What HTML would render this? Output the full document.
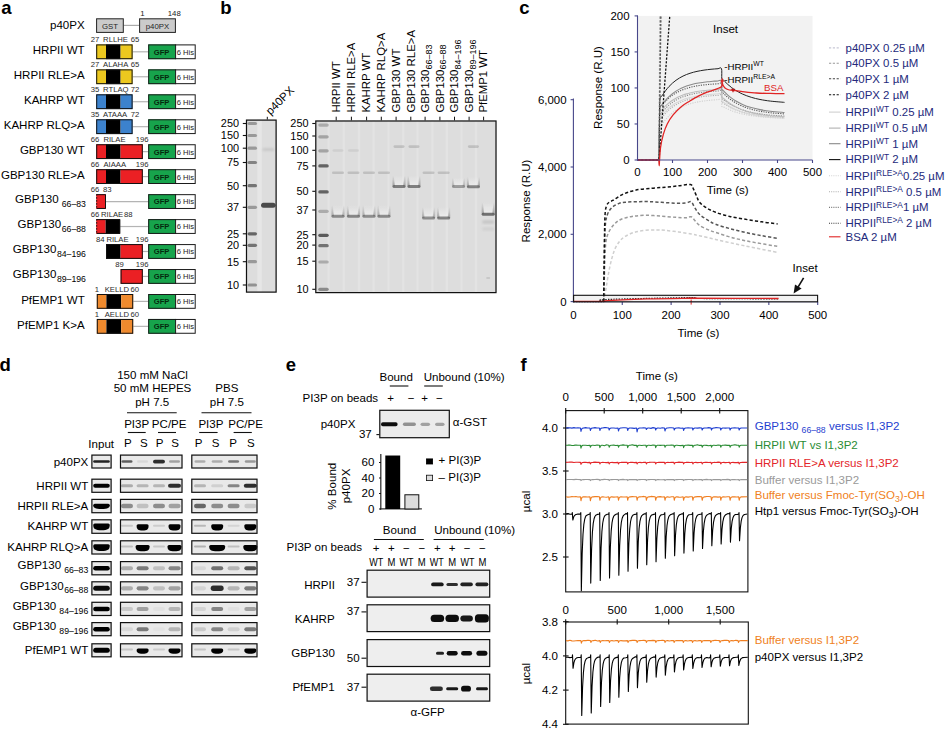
<!DOCTYPE html>
<html><head><meta charset="utf-8"><style>
html,body{margin:0;padding:0;background:#fff;width:946px;height:731px;overflow:hidden}
svg{display:block}
text{font-family:"Liberation Sans", sans-serif}
</style></head><body>
<svg width="946" height="731" viewBox="0 0 946 731" font-family='"Liberation Sans", sans-serif'>
<defs>
<filter id="b05" x="-50%" y="-50%" width="200%" height="200%"><feGaussianBlur stdDeviation="0.5"/></filter>
<filter id="b07" x="-50%" y="-50%" width="200%" height="200%"><feGaussianBlur stdDeviation="0.7"/></filter>
<filter id="b1" x="-50%" y="-50%" width="200%" height="200%"><feGaussianBlur stdDeviation="1"/></filter>
<filter id="b15" x="-50%" y="-50%" width="200%" height="200%"><feGaussianBlur stdDeviation="1.5"/></filter>
<filter id="b2" x="-50%" y="-50%" width="200%" height="200%"><feGaussianBlur stdDeviation="2"/></filter>
<filter id="b3" x="-50%" y="-50%" width="200%" height="200%"><feGaussianBlur stdDeviation="3"/></filter>
<linearGradient id="ugrad" x1="0" y1="0" x2="0" y2="1"><stop offset="0" stop-color="#888" stop-opacity="0"/><stop offset="1" stop-color="#666" stop-opacity="0.55"/></linearGradient>
<linearGradient id="lgrad" x1="0" y1="0" x2="0" y2="1"><stop offset="0" stop-color="#eeeeee" stop-opacity="0"/><stop offset="1" stop-color="#efefef" stop-opacity="0.9"/></linearGradient>
</defs>
<text x="1.30" y="13.80" font-size="18.5" fill="#000" font-weight="bold">a</text>
<text x="220.20" y="13.60" font-size="18.5" fill="#000" font-weight="bold">b</text>
<text x="519.20" y="13.90" font-size="18.5" fill="#000" font-weight="bold">c</text>
<text x="-0.60" y="370.60" font-size="18.5" fill="#000" font-weight="bold">d</text>
<text x="285.80" y="370.80" font-size="18.5" fill="#000" font-weight="bold">e</text>
<text x="520.50" y="371.20" font-size="18.5" fill="#000" font-weight="bold">f</text>
<text x="84.70" y="29.10" font-size="11.55" text-anchor="end">p40PX</text>
<text x="140.20" y="15.60" font-size="7.8" fill="#222">1</text>
<text x="180.80" y="15.60" font-size="7.8" text-anchor="end" fill="#222">148</text>
<line x1="123.70" y1="25.40" x2="139.30" y2="25.40" stroke="#aaa" stroke-width="1.2"/>
<rect x="96.60" y="18.80" width="26.70" height="13.60" fill="#cbcbcb" stroke="#222" stroke-width="1"/>
<rect x="139.60" y="18.80" width="35.80" height="13.60" fill="#cbcbcb" stroke="#222" stroke-width="1"/>
<text x="110.00" y="28.60" font-size="7.8" text-anchor="middle" fill="#262626">GST</text>
<text x="157.50" y="28.60" font-size="7.8" text-anchor="middle" fill="#262626">p40PX</text>
<text x="84.70" y="54.10" font-size="11.55" text-anchor="end">HRPII WT</text>
<line x1="132.60" y1="51.80" x2="148.20" y2="51.80" stroke="#b4b4b4" stroke-width="1.2"/>
<rect x="96.20" y="44.40" width="9.80" height="14.80" fill="#ecc81f"/>
<rect x="106.00" y="44.40" width="14.60" height="14.80" fill="#000"/>
<rect x="120.60" y="44.40" width="12.00" height="14.80" fill="#ecc81f"/>
<rect x="96.70" y="44.90" width="35.40" height="13.80" fill="none" stroke="#111" stroke-width="1"/>
<rect x="148.2" y="44.40" width="27.4" height="14.80" fill="#17a44c"/>
<rect x="148.70" y="44.90" width="46.50" height="13.80" fill="none" stroke="#1a1a1a" stroke-width="1"/>
<line x1="175.60" y1="44.40" x2="175.60" y2="59.20" stroke="#1a1a1a" stroke-width="1"/>
<text x="161.60" y="54.70" font-size="7.6" text-anchor="middle" fill="#052a0f" font-weight="bold">GFP</text>
<text x="176.70" y="54.70" font-size="7.6" fill="#222">6 His</text>
<text x="90.80" y="42.40" font-size="7.7" fill="#2a2a2a">27</text>
<text x="103.10" y="42.40" font-size="7.7" fill="#2a2a2a">RLLHE</text>
<text x="130.70" y="42.40" font-size="7.7" fill="#2a2a2a">65</text>
<text x="84.70" y="79.06" font-size="11.55" text-anchor="end">HRPII RLE&gt;A</text>
<line x1="132.60" y1="76.76" x2="148.20" y2="76.76" stroke="#b4b4b4" stroke-width="1.2"/>
<rect x="96.20" y="69.36" width="9.80" height="14.80" fill="#ecc81f"/>
<rect x="106.00" y="69.36" width="14.60" height="14.80" fill="#000"/>
<rect x="120.60" y="69.36" width="12.00" height="14.80" fill="#ecc81f"/>
<rect x="96.70" y="69.86" width="35.40" height="13.80" fill="none" stroke="#111" stroke-width="1"/>
<rect x="148.2" y="69.36" width="27.4" height="14.80" fill="#17a44c"/>
<rect x="148.70" y="69.86" width="46.50" height="13.80" fill="none" stroke="#1a1a1a" stroke-width="1"/>
<line x1="175.60" y1="69.36" x2="175.60" y2="84.16" stroke="#1a1a1a" stroke-width="1"/>
<text x="161.60" y="79.66" font-size="7.6" text-anchor="middle" fill="#052a0f" font-weight="bold">GFP</text>
<text x="176.70" y="79.66" font-size="7.6" fill="#222">6 His</text>
<text x="90.80" y="67.36" font-size="7.7" fill="#2a2a2a">27</text>
<text x="103.10" y="67.36" font-size="7.7" fill="#2a2a2a">ALAHA</text>
<text x="130.70" y="67.36" font-size="7.7" fill="#2a2a2a">65</text>
<text x="84.70" y="104.02" font-size="11.55" text-anchor="end">KAHRP WT</text>
<line x1="132.60" y1="101.72" x2="148.20" y2="101.72" stroke="#b4b4b4" stroke-width="1.2"/>
<rect x="96.20" y="94.32" width="9.80" height="14.80" fill="#3c82cd"/>
<rect x="106.00" y="94.32" width="14.60" height="14.80" fill="#000"/>
<rect x="120.60" y="94.32" width="12.00" height="14.80" fill="#3c82cd"/>
<rect x="96.70" y="94.82" width="35.40" height="13.80" fill="none" stroke="#111" stroke-width="1"/>
<rect x="148.2" y="94.32" width="27.4" height="14.80" fill="#17a44c"/>
<rect x="148.70" y="94.82" width="46.50" height="13.80" fill="none" stroke="#1a1a1a" stroke-width="1"/>
<line x1="175.60" y1="94.32" x2="175.60" y2="109.12" stroke="#1a1a1a" stroke-width="1"/>
<text x="161.60" y="104.62" font-size="7.6" text-anchor="middle" fill="#052a0f" font-weight="bold">GFP</text>
<text x="176.70" y="104.62" font-size="7.6" fill="#222">6 His</text>
<text x="90.80" y="92.32" font-size="7.7" fill="#2a2a2a">35</text>
<text x="103.10" y="92.32" font-size="7.7" fill="#2a2a2a">RTLAQ</text>
<text x="130.70" y="92.32" font-size="7.7" fill="#2a2a2a">72</text>
<text x="84.70" y="128.98" font-size="11.55" text-anchor="end">KAHRP RLQ&gt;A</text>
<line x1="132.60" y1="126.68" x2="148.20" y2="126.68" stroke="#b4b4b4" stroke-width="1.2"/>
<rect x="96.20" y="119.28" width="9.80" height="14.80" fill="#3c82cd"/>
<rect x="106.00" y="119.28" width="14.60" height="14.80" fill="#000"/>
<rect x="120.60" y="119.28" width="12.00" height="14.80" fill="#3c82cd"/>
<rect x="96.70" y="119.78" width="35.40" height="13.80" fill="none" stroke="#111" stroke-width="1"/>
<rect x="148.2" y="119.28" width="27.4" height="14.80" fill="#17a44c"/>
<rect x="148.70" y="119.78" width="46.50" height="13.80" fill="none" stroke="#1a1a1a" stroke-width="1"/>
<line x1="175.60" y1="119.28" x2="175.60" y2="134.08" stroke="#1a1a1a" stroke-width="1"/>
<text x="161.60" y="129.58" font-size="7.6" text-anchor="middle" fill="#052a0f" font-weight="bold">GFP</text>
<text x="176.70" y="129.58" font-size="7.6" fill="#222">6 His</text>
<text x="90.80" y="117.28" font-size="7.7" fill="#2a2a2a">35</text>
<text x="103.10" y="117.28" font-size="7.7" fill="#2a2a2a">ATAAA</text>
<text x="130.70" y="117.28" font-size="7.7" fill="#2a2a2a">72</text>
<text x="84.70" y="153.94" font-size="11.55" text-anchor="end">GBP130 WT</text>
<line x1="142.80" y1="151.64" x2="148.20" y2="151.64" stroke="#b4b4b4" stroke-width="1.2"/>
<rect x="96.20" y="144.24" width="9.80" height="14.80" fill="#eb2024"/>
<rect x="106.00" y="144.24" width="14.60" height="14.80" fill="#000"/>
<rect x="120.60" y="144.24" width="22.20" height="14.80" fill="#eb2024"/>
<rect x="96.70" y="144.74" width="45.60" height="13.80" fill="none" stroke="#111" stroke-width="1"/>
<rect x="148.2" y="144.24" width="27.4" height="14.80" fill="#17a44c"/>
<rect x="148.70" y="144.74" width="46.50" height="13.80" fill="none" stroke="#1a1a1a" stroke-width="1"/>
<line x1="175.60" y1="144.24" x2="175.60" y2="159.04" stroke="#1a1a1a" stroke-width="1"/>
<text x="161.60" y="154.54" font-size="7.6" text-anchor="middle" fill="#052a0f" font-weight="bold">GFP</text>
<text x="176.70" y="154.54" font-size="7.6" fill="#222">6 His</text>
<text x="90.80" y="142.24" font-size="7.7" fill="#2a2a2a">66</text>
<text x="103.40" y="142.24" font-size="7.7" fill="#2a2a2a">RILAE</text>
<text x="148.60" y="142.24" font-size="7.7" text-anchor="end" fill="#2a2a2a">196</text>
<text x="84.70" y="178.90" font-size="11.55" text-anchor="end">GBP130 RLE&gt;A</text>
<line x1="142.80" y1="176.60" x2="148.20" y2="176.60" stroke="#b4b4b4" stroke-width="1.2"/>
<rect x="96.20" y="169.20" width="9.80" height="14.80" fill="#eb2024"/>
<rect x="106.00" y="169.20" width="14.60" height="14.80" fill="#000"/>
<rect x="120.60" y="169.20" width="22.20" height="14.80" fill="#eb2024"/>
<rect x="96.70" y="169.70" width="45.60" height="13.80" fill="none" stroke="#111" stroke-width="1"/>
<rect x="148.2" y="169.20" width="27.4" height="14.80" fill="#17a44c"/>
<rect x="148.70" y="169.70" width="46.50" height="13.80" fill="none" stroke="#1a1a1a" stroke-width="1"/>
<line x1="175.60" y1="169.20" x2="175.60" y2="184.00" stroke="#1a1a1a" stroke-width="1"/>
<text x="161.60" y="179.50" font-size="7.6" text-anchor="middle" fill="#052a0f" font-weight="bold">GFP</text>
<text x="176.70" y="179.50" font-size="7.6" fill="#222">6 His</text>
<text x="90.80" y="167.20" font-size="7.7" fill="#2a2a2a">66</text>
<text x="103.40" y="167.20" font-size="7.7" fill="#2a2a2a">AIAAA</text>
<text x="148.60" y="167.20" font-size="7.7" text-anchor="end" fill="#2a2a2a">196</text>
<text x="85.90" y="203.46" font-size="11.55" text-anchor="end">GBP130<tspan font-size="8.7" dx="3" dy="3.4">66–83</tspan></text>
<line x1="106.00" y1="201.56" x2="148.20" y2="201.56" stroke="#b4b4b4" stroke-width="1.2"/>
<rect x="96.20" y="194.16" width="9.80" height="14.80" fill="#eb2024"/>
<path d="M96.70,194.66 H105.50 V208.46 H96.70" fill="none" stroke="#111" stroke-width="1"/>
<line x1="96.70" y1="194.16" x2="96.70" y2="208.96" stroke="#111" stroke-width="1" stroke-dasharray="1.5,1.5"/>
<rect x="148.2" y="194.16" width="27.4" height="14.80" fill="#17a44c"/>
<rect x="148.70" y="194.66" width="46.50" height="13.80" fill="none" stroke="#1a1a1a" stroke-width="1"/>
<line x1="175.60" y1="194.16" x2="175.60" y2="208.96" stroke="#1a1a1a" stroke-width="1"/>
<text x="161.60" y="204.46" font-size="7.6" text-anchor="middle" fill="#052a0f" font-weight="bold">GFP</text>
<text x="176.70" y="204.46" font-size="7.6" fill="#222">6 His</text>
<text x="90.80" y="192.16" font-size="7.7" fill="#2a2a2a">66</text>
<text x="103.00" y="192.16" font-size="7.7" fill="#2a2a2a">83</text>
<text x="85.90" y="228.42" font-size="11.55" text-anchor="end">GBP130<tspan font-size="8.7" dx="0.5" dy="3.4">66–88</tspan></text>
<line x1="120.20" y1="226.52" x2="148.20" y2="226.52" stroke="#b4b4b4" stroke-width="1.2"/>
<rect x="96.20" y="219.12" width="9.40" height="14.80" fill="#eb2024"/>
<rect x="105.60" y="219.12" width="14.60" height="14.80" fill="#000"/>
<path d="M96.70,219.62 H119.70 V233.42 H96.70" fill="none" stroke="#111" stroke-width="1"/>
<line x1="96.70" y1="219.12" x2="96.70" y2="233.92" stroke="#111" stroke-width="1" stroke-dasharray="1.5,1.5"/>
<rect x="148.2" y="219.12" width="27.4" height="14.80" fill="#17a44c"/>
<rect x="148.70" y="219.62" width="46.50" height="13.80" fill="none" stroke="#1a1a1a" stroke-width="1"/>
<line x1="175.60" y1="219.12" x2="175.60" y2="233.92" stroke="#1a1a1a" stroke-width="1"/>
<text x="161.60" y="229.42" font-size="7.6" text-anchor="middle" fill="#052a0f" font-weight="bold">GFP</text>
<text x="176.70" y="229.42" font-size="7.6" fill="#222">6 His</text>
<text x="90.80" y="217.12" font-size="7.7" fill="#2a2a2a">66</text>
<text x="101.00" y="217.12" font-size="7.7" fill="#2a2a2a">RILAE</text>
<text x="123.90" y="217.12" font-size="7.7" fill="#2a2a2a">88</text>
<text x="85.90" y="253.38" font-size="11.55" text-anchor="end">GBP130<tspan font-size="8.7" dx="0.5" dy="3.4">84–196</tspan></text>
<line x1="142.80" y1="251.48" x2="148.20" y2="251.48" stroke="#b4b4b4" stroke-width="1.2"/>
<rect x="106.00" y="244.08" width="14.60" height="14.80" fill="#000"/>
<rect x="120.60" y="244.08" width="22.20" height="14.80" fill="#eb2024"/>
<rect x="106.50" y="244.58" width="35.80" height="13.80" fill="none" stroke="#111" stroke-width="1"/>
<rect x="148.2" y="244.08" width="27.4" height="14.80" fill="#17a44c"/>
<rect x="148.70" y="244.58" width="46.50" height="13.80" fill="none" stroke="#1a1a1a" stroke-width="1"/>
<line x1="175.60" y1="244.08" x2="175.60" y2="258.88" stroke="#1a1a1a" stroke-width="1"/>
<text x="161.60" y="254.38" font-size="7.6" text-anchor="middle" fill="#052a0f" font-weight="bold">GFP</text>
<text x="176.70" y="254.38" font-size="7.6" fill="#222">6 His</text>
<text x="96.00" y="242.08" font-size="7.7" fill="#2a2a2a">84</text>
<text x="106.40" y="242.08" font-size="7.7" fill="#2a2a2a">RILAE</text>
<text x="148.60" y="242.08" font-size="7.7" text-anchor="end" fill="#2a2a2a">196</text>
<text x="85.90" y="278.34" font-size="11.55" text-anchor="end">GBP130<tspan font-size="8.7" dx="0.5" dy="3.4">89–196</tspan></text>
<line x1="142.80" y1="276.44" x2="148.20" y2="276.44" stroke="#b4b4b4" stroke-width="1.2"/>
<rect x="120.60" y="269.04" width="22.20" height="14.80" fill="#eb2024"/>
<rect x="121.10" y="269.54" width="21.20" height="13.80" fill="none" stroke="#111" stroke-width="1"/>
<rect x="148.2" y="269.04" width="27.4" height="14.80" fill="#17a44c"/>
<rect x="148.70" y="269.54" width="46.50" height="13.80" fill="none" stroke="#1a1a1a" stroke-width="1"/>
<line x1="175.60" y1="269.04" x2="175.60" y2="283.84" stroke="#1a1a1a" stroke-width="1"/>
<text x="161.60" y="279.34" font-size="7.6" text-anchor="middle" fill="#052a0f" font-weight="bold">GFP</text>
<text x="176.70" y="279.34" font-size="7.6" fill="#222">6 His</text>
<text x="115.30" y="267.04" font-size="7.7" fill="#2a2a2a">89</text>
<text x="148.60" y="267.04" font-size="7.7" text-anchor="end" fill="#2a2a2a">196</text>
<text x="84.70" y="303.70" font-size="11.55" text-anchor="end">PfEMP1 WT</text>
<line x1="133.20" y1="301.40" x2="148.20" y2="301.40" stroke="#b4b4b4" stroke-width="1.2"/>
<rect x="96.80" y="294.00" width="9.60" height="14.80" fill="#ef8a2e"/>
<rect x="106.40" y="294.00" width="14.80" height="14.80" fill="#000"/>
<rect x="121.20" y="294.00" width="12.00" height="14.80" fill="#ef8a2e"/>
<rect x="97.30" y="294.50" width="35.40" height="13.80" fill="none" stroke="#111" stroke-width="1"/>
<rect x="148.2" y="294.00" width="27.4" height="14.80" fill="#17a44c"/>
<rect x="148.70" y="294.50" width="46.50" height="13.80" fill="none" stroke="#1a1a1a" stroke-width="1"/>
<line x1="175.60" y1="294.00" x2="175.60" y2="308.80" stroke="#1a1a1a" stroke-width="1"/>
<text x="161.60" y="304.30" font-size="7.6" text-anchor="middle" fill="#052a0f" font-weight="bold">GFP</text>
<text x="176.70" y="304.30" font-size="7.6" fill="#222">6 His</text>
<text x="94.80" y="292.00" font-size="7.7" fill="#2a2a2a">1</text>
<text x="104.70" y="292.00" font-size="7.7" fill="#2a2a2a">KELLD</text>
<text x="130.50" y="292.00" font-size="7.7" fill="#2a2a2a">60</text>
<text x="84.70" y="328.66" font-size="11.55" text-anchor="end">PfEMP1 K&gt;A</text>
<line x1="133.20" y1="326.36" x2="148.20" y2="326.36" stroke="#b4b4b4" stroke-width="1.2"/>
<rect x="96.80" y="318.96" width="9.60" height="14.80" fill="#ef8a2e"/>
<rect x="106.40" y="318.96" width="14.80" height="14.80" fill="#000"/>
<rect x="121.20" y="318.96" width="12.00" height="14.80" fill="#ef8a2e"/>
<rect x="97.30" y="319.46" width="35.40" height="13.80" fill="none" stroke="#111" stroke-width="1"/>
<rect x="148.2" y="318.96" width="27.4" height="14.80" fill="#17a44c"/>
<rect x="148.70" y="319.46" width="46.50" height="13.80" fill="none" stroke="#1a1a1a" stroke-width="1"/>
<line x1="175.60" y1="318.96" x2="175.60" y2="333.76" stroke="#1a1a1a" stroke-width="1"/>
<text x="161.60" y="329.26" font-size="7.6" text-anchor="middle" fill="#052a0f" font-weight="bold">GFP</text>
<text x="176.70" y="329.26" font-size="7.6" fill="#222">6 His</text>
<text x="94.80" y="316.96" font-size="7.7" fill="#2a2a2a">1</text>
<text x="104.70" y="316.96" font-size="7.7" fill="#2a2a2a">AELLD</text>
<text x="130.50" y="316.96" font-size="7.7" fill="#2a2a2a">60</text>
<rect x="245.9" y="119.5" width="30.799999999999983" height="173.2" fill="#dddddd"/>
<rect x="257.3" y="119.5" width="4.5" height="173.2" fill="#e6e6e6" filter="url(#b05)"/>
<rect x="247.55" y="121.90" width="9.50" height="3.20" rx="1.60" fill="#4a4a4a" opacity="0.45" filter="url(#b05)"/>
<line x1="242.80" y1="123.50" x2="246.00" y2="123.50" stroke="#111" stroke-width="1.1"/>
<text x="239.00" y="127.40" font-size="10.9" text-anchor="end" fill="#000">250</text>
<rect x="247.55" y="133.90" width="9.50" height="3.20" rx="1.60" fill="#4a4a4a" opacity="0.45" filter="url(#b05)"/>
<line x1="242.80" y1="135.50" x2="246.00" y2="135.50" stroke="#111" stroke-width="1.1"/>
<text x="239.00" y="139.40" font-size="10.9" text-anchor="end" fill="#000">150</text>
<rect x="247.55" y="146.60" width="9.50" height="3.20" rx="1.60" fill="#4a4a4a" opacity="0.45" filter="url(#b05)"/>
<line x1="242.80" y1="148.20" x2="246.00" y2="148.20" stroke="#111" stroke-width="1.1"/>
<text x="239.00" y="152.10" font-size="10.9" text-anchor="end" fill="#000">100</text>
<rect x="247.55" y="160.90" width="9.50" height="3.20" rx="1.60" fill="#4a4a4a" opacity="0.6" filter="url(#b05)"/>
<line x1="242.80" y1="162.50" x2="246.00" y2="162.50" stroke="#111" stroke-width="1.1"/>
<text x="239.00" y="166.40" font-size="10.9" text-anchor="end" fill="#000">75</text>
<rect x="247.55" y="184.10" width="9.50" height="3.20" rx="1.60" fill="#4a4a4a" opacity="0.7" filter="url(#b05)"/>
<line x1="242.80" y1="185.70" x2="246.00" y2="185.70" stroke="#111" stroke-width="1.1"/>
<text x="239.00" y="189.60" font-size="10.9" text-anchor="end" fill="#000">50</text>
<rect x="247.55" y="205.70" width="9.50" height="3.20" rx="1.60" fill="#4a4a4a" opacity="0.45" filter="url(#b05)"/>
<line x1="242.80" y1="207.30" x2="246.00" y2="207.30" stroke="#111" stroke-width="1.1"/>
<text x="239.00" y="211.20" font-size="10.9" text-anchor="end" fill="#000">37</text>
<rect x="247.55" y="232.20" width="9.50" height="3.20" rx="1.60" fill="#4a4a4a" opacity="0.8" filter="url(#b05)"/>
<line x1="242.80" y1="233.80" x2="246.00" y2="233.80" stroke="#111" stroke-width="1.1"/>
<text x="239.00" y="237.70" font-size="10.9" text-anchor="end" fill="#000">25</text>
<rect x="247.55" y="243.70" width="9.50" height="3.20" rx="1.60" fill="#4a4a4a" opacity="0.7" filter="url(#b05)"/>
<line x1="242.80" y1="245.30" x2="246.00" y2="245.30" stroke="#111" stroke-width="1.1"/>
<text x="239.00" y="249.20" font-size="10.9" text-anchor="end" fill="#000">20</text>
<rect x="247.55" y="260.10" width="9.50" height="3.20" rx="1.60" fill="#4a4a4a" opacity="0.45" filter="url(#b05)"/>
<line x1="242.80" y1="261.70" x2="246.00" y2="261.70" stroke="#111" stroke-width="1.1"/>
<text x="239.00" y="265.60" font-size="10.9" text-anchor="end" fill="#000">15</text>
<rect x="247.55" y="283.40" width="9.50" height="3.20" rx="1.60" fill="#4a4a4a" opacity="0.5" filter="url(#b05)"/>
<line x1="242.80" y1="285.00" x2="246.00" y2="285.00" stroke="#111" stroke-width="1.1"/>
<text x="239.00" y="288.90" font-size="10.9" text-anchor="end" fill="#000">10</text>
<rect x="261.05" y="202.80" width="14.50" height="5.00" rx="2.50" fill="#3a3a3a" opacity="0.9" filter="url(#b05)"/>
<rect x="262.30" y="148.00" width="12.00" height="3.00" rx="1.50" fill="#909090" opacity="0.25" filter="url(#b1)"/>
<rect x="246.5" y="120.1" width="29.599999999999984" height="172.0" fill="none" stroke="#111" stroke-width="1.2"/>
<line x1="267.30" y1="116.80" x2="267.30" y2="119.50" stroke="#111" stroke-width="1"/>
<text x="270.50" y="115.50" font-size="11.45" transform="rotate(-45 270.5 115.5)">p40PX</text>
<rect x="315.2" y="120.4" width="181.40000000000003" height="172.79999999999998" fill="#dddddd"/>
<rect x="327.50" y="120.4" width="2.2" height="172.8" fill="#e3e3e3" filter="url(#b05)"/>
<rect x="342.70" y="120.4" width="2.2" height="172.8" fill="#e3e3e3" filter="url(#b05)"/>
<rect x="357.90" y="120.4" width="2.2" height="172.8" fill="#e3e3e3" filter="url(#b05)"/>
<rect x="372.60" y="120.4" width="2.2" height="172.8" fill="#e3e3e3" filter="url(#b05)"/>
<rect x="387.40" y="120.4" width="2.2" height="172.8" fill="#e3e3e3" filter="url(#b05)"/>
<rect x="402.10" y="120.4" width="2.2" height="172.8" fill="#e3e3e3" filter="url(#b05)"/>
<rect x="416.40" y="120.4" width="2.2" height="172.8" fill="#e3e3e3" filter="url(#b05)"/>
<rect x="431.20" y="120.4" width="2.2" height="172.8" fill="#e3e3e3" filter="url(#b05)"/>
<rect x="445.80" y="120.4" width="2.2" height="172.8" fill="#e3e3e3" filter="url(#b05)"/>
<rect x="460.40" y="120.4" width="2.2" height="172.8" fill="#e3e3e3" filter="url(#b05)"/>
<rect x="474.90" y="120.4" width="2.2" height="172.8" fill="#e3e3e3" filter="url(#b05)"/>
<rect x="318.25" y="123.50" width="10.50" height="3.20" rx="1.60" fill="#3a3a3a" opacity="0.3" filter="url(#b05)"/>
<line x1="312.30" y1="123.50" x2="315.50" y2="123.50" stroke="#111" stroke-width="1.1"/>
<text x="308.50" y="127.40" font-size="10.9" text-anchor="end" fill="#000">250</text>
<rect x="318.25" y="135.20" width="10.50" height="3.20" rx="1.60" fill="#3a3a3a" opacity="0.35" filter="url(#b05)"/>
<line x1="312.30" y1="136.00" x2="315.50" y2="136.00" stroke="#111" stroke-width="1.1"/>
<text x="308.50" y="139.90" font-size="10.9" text-anchor="end" fill="#000">150</text>
<rect x="318.25" y="149.20" width="10.50" height="3.20" rx="1.60" fill="#3a3a3a" opacity="0.35" filter="url(#b05)"/>
<line x1="312.30" y1="150.30" x2="315.50" y2="150.30" stroke="#111" stroke-width="1.1"/>
<text x="308.50" y="154.20" font-size="10.9" text-anchor="end" fill="#000">100</text>
<rect x="318.25" y="164.30" width="10.50" height="3.20" rx="1.60" fill="#3a3a3a" opacity="0.75" filter="url(#b05)"/>
<line x1="312.30" y1="165.90" x2="315.50" y2="165.90" stroke="#111" stroke-width="1.1"/>
<text x="308.50" y="169.80" font-size="10.9" text-anchor="end" fill="#000">75</text>
<rect x="318.25" y="190.30" width="10.50" height="3.20" rx="1.60" fill="#3a3a3a" opacity="0.75" filter="url(#b05)"/>
<line x1="312.30" y1="191.30" x2="315.50" y2="191.30" stroke="#111" stroke-width="1.1"/>
<text x="308.50" y="195.20" font-size="10.9" text-anchor="end" fill="#000">50</text>
<rect x="318.25" y="209.70" width="10.50" height="3.20" rx="1.60" fill="#3a3a3a" opacity="0.3" filter="url(#b05)"/>
<line x1="312.30" y1="210.00" x2="315.50" y2="210.00" stroke="#111" stroke-width="1.1"/>
<text x="308.50" y="213.90" font-size="10.9" text-anchor="end" fill="#000">37</text>
<rect x="318.25" y="233.70" width="10.50" height="3.20" rx="1.60" fill="#3a3a3a" opacity="0.8" filter="url(#b05)"/>
<line x1="312.30" y1="234.70" x2="315.50" y2="234.70" stroke="#111" stroke-width="1.1"/>
<text x="308.50" y="238.60" font-size="10.9" text-anchor="end" fill="#000">25</text>
<rect x="318.25" y="244.10" width="10.50" height="3.20" rx="1.60" fill="#3a3a3a" opacity="0.65" filter="url(#b05)"/>
<line x1="312.30" y1="245.10" x2="315.50" y2="245.10" stroke="#111" stroke-width="1.1"/>
<text x="308.50" y="249.00" font-size="10.9" text-anchor="end" fill="#000">20</text>
<rect x="318.25" y="260.40" width="10.50" height="3.20" rx="1.60" fill="#3a3a3a" opacity="0.3" filter="url(#b05)"/>
<line x1="312.30" y1="261.20" x2="315.50" y2="261.20" stroke="#111" stroke-width="1.1"/>
<text x="308.50" y="265.10" font-size="10.9" text-anchor="end" fill="#000">15</text>
<rect x="318.25" y="287.70" width="10.50" height="3.20" rx="1.60" fill="#3a3a3a" opacity="0.5" filter="url(#b05)"/>
<line x1="312.30" y1="289.30" x2="315.50" y2="289.30" stroke="#111" stroke-width="1.1"/>
<text x="308.50" y="293.20" font-size="10.9" text-anchor="end" fill="#000">10</text>
<rect x="333.00" y="205.20" width="10.00" height="11.00" fill="url(#lgrad)" filter="url(#b07)"/>
<path d="M331.40,216.20 L331.50,205.20 L332.70,205.20 L334.00,216.20 Z" fill="url(#ugrad)" opacity="0.87" filter="url(#b07)"/>
<path d="M342.00,216.20 L343.30,205.20 L344.50,205.20 L344.60,216.20 Z" fill="url(#ugrad)" opacity="0.87" filter="url(#b07)"/>
<rect x="331.50" y="214.70" width="13.00" height="3.00" rx="1.50" fill="#555" opacity="0.62" filter="url(#b07)"/>
<rect x="348.48" y="205.20" width="10.00" height="11.00" fill="url(#lgrad)" filter="url(#b07)"/>
<path d="M346.88,216.20 L346.98,205.20 L348.18,205.20 L349.48,216.20 Z" fill="url(#ugrad)" opacity="0.91" filter="url(#b07)"/>
<path d="M357.48,216.20 L358.78,205.20 L359.98,205.20 L360.08,216.20 Z" fill="url(#ugrad)" opacity="0.91" filter="url(#b07)"/>
<rect x="346.98" y="214.70" width="13.00" height="3.00" rx="1.50" fill="#555" opacity="0.65" filter="url(#b07)"/>
<rect x="363.96" y="205.20" width="10.00" height="11.00" fill="url(#lgrad)" filter="url(#b07)"/>
<path d="M362.36,216.20 L362.46,205.20 L363.66,205.20 L364.96,216.20 Z" fill="url(#ugrad)" opacity="0.84" filter="url(#b07)"/>
<path d="M372.96,216.20 L374.26,205.20 L375.46,205.20 L375.56,216.20 Z" fill="url(#ugrad)" opacity="0.84" filter="url(#b07)"/>
<rect x="362.46" y="214.70" width="13.00" height="3.00" rx="1.50" fill="#555" opacity="0.6" filter="url(#b07)"/>
<rect x="378.94" y="205.20" width="10.00" height="11.00" fill="url(#lgrad)" filter="url(#b07)"/>
<path d="M377.34,216.20 L377.44,205.20 L378.64,205.20 L379.94,216.20 Z" fill="url(#ugrad)" opacity="0.87" filter="url(#b07)"/>
<path d="M387.94,216.20 L389.24,205.20 L390.44,205.20 L390.54,216.20 Z" fill="url(#ugrad)" opacity="0.87" filter="url(#b07)"/>
<rect x="377.44" y="214.70" width="13.00" height="3.00" rx="1.50" fill="#555" opacity="0.62" filter="url(#b07)"/>
<rect x="394.02" y="175.40" width="10.00" height="11.00" fill="url(#lgrad)" filter="url(#b07)"/>
<path d="M392.42,186.40 L392.52,175.40 L393.72,175.40 L395.02,186.40 Z" fill="url(#ugrad)" opacity="0.98" filter="url(#b07)"/>
<path d="M403.02,186.40 L404.32,175.40 L405.52,175.40 L405.62,186.40 Z" fill="url(#ugrad)" opacity="0.98" filter="url(#b07)"/>
<rect x="392.52" y="184.90" width="13.00" height="3.00" rx="1.50" fill="#555" opacity="0.7" filter="url(#b07)"/>
<rect x="409.00" y="175.40" width="10.00" height="11.00" fill="url(#lgrad)" filter="url(#b07)"/>
<path d="M407.40,186.40 L407.50,175.40 L408.70,175.40 L410.00,186.40 Z" fill="url(#ugrad)" opacity="0.98" filter="url(#b07)"/>
<path d="M418.00,186.40 L419.30,175.40 L420.50,175.40 L420.60,186.40 Z" fill="url(#ugrad)" opacity="0.98" filter="url(#b07)"/>
<rect x="407.50" y="184.90" width="13.00" height="3.00" rx="1.50" fill="#555" opacity="0.7" filter="url(#b07)"/>
<rect x="423.58" y="207.00" width="10.00" height="11.00" fill="url(#lgrad)" filter="url(#b07)"/>
<path d="M421.98,218.00 L422.08,207.00 L423.28,207.00 L424.58,218.00 Z" fill="url(#ugrad)" opacity="0.84" filter="url(#b07)"/>
<path d="M432.58,218.00 L433.88,207.00 L435.08,207.00 L435.18,218.00 Z" fill="url(#ugrad)" opacity="0.84" filter="url(#b07)"/>
<rect x="422.08" y="216.50" width="13.00" height="3.00" rx="1.50" fill="#555" opacity="0.6" filter="url(#b07)"/>
<rect x="438.66" y="207.00" width="10.00" height="11.00" fill="url(#lgrad)" filter="url(#b07)"/>
<path d="M437.06,218.00 L437.16,207.00 L438.36,207.00 L439.66,218.00 Z" fill="url(#ugrad)" opacity="0.95" filter="url(#b07)"/>
<path d="M447.66,218.00 L448.96,207.00 L450.16,207.00 L450.26,218.00 Z" fill="url(#ugrad)" opacity="0.95" filter="url(#b07)"/>
<rect x="437.16" y="216.50" width="13.00" height="3.00" rx="1.50" fill="#555" opacity="0.68" filter="url(#b07)"/>
<rect x="453.54" y="177.60" width="10.00" height="9.00" fill="url(#lgrad)" filter="url(#b07)"/>
<path d="M451.94,186.60 L452.04,177.60 L453.24,177.60 L454.54,186.60 Z" fill="url(#ugrad)" opacity="0.70" filter="url(#b07)"/>
<path d="M462.54,186.60 L463.84,177.60 L465.04,177.60 L465.14,186.60 Z" fill="url(#ugrad)" opacity="0.70" filter="url(#b07)"/>
<rect x="452.04" y="185.10" width="13.00" height="3.00" rx="1.50" fill="#555" opacity="0.5" filter="url(#b07)"/>
<rect x="468.42" y="176.80" width="10.00" height="10.00" fill="url(#lgrad)" filter="url(#b07)"/>
<path d="M466.82,186.80 L466.92,176.80 L468.12,176.80 L469.42,186.80 Z" fill="url(#ugrad)" opacity="0.95" filter="url(#b07)"/>
<path d="M477.42,186.80 L478.72,176.80 L479.92,176.80 L480.02,186.80 Z" fill="url(#ugrad)" opacity="0.95" filter="url(#b07)"/>
<rect x="466.92" y="185.30" width="13.00" height="3.00" rx="1.50" fill="#555" opacity="0.68" filter="url(#b07)"/>
<rect x="483.20" y="202.20" width="10.00" height="12.00" fill="url(#lgrad)" filter="url(#b07)"/>
<path d="M481.60,214.20 L481.70,202.20 L482.90,202.20 L484.20,214.20 Z" fill="url(#ugrad)" opacity="1.00" filter="url(#b07)"/>
<path d="M492.20,214.20 L493.50,202.20 L494.70,202.20 L494.80,214.20 Z" fill="url(#ugrad)" opacity="1.00" filter="url(#b07)"/>
<rect x="481.70" y="212.70" width="13.00" height="3.00" rx="1.50" fill="#555" opacity="0.8" filter="url(#b07)"/>
<rect x="332.00" y="171.50" width="12.00" height="2.60" rx="1.30" fill="#888" opacity="0.35" filter="url(#b05)"/>
<rect x="347.48" y="171.50" width="12.00" height="2.60" rx="1.30" fill="#888" opacity="0.35" filter="url(#b05)"/>
<rect x="362.96" y="171.50" width="12.00" height="2.60" rx="1.30" fill="#888" opacity="0.35" filter="url(#b05)"/>
<rect x="377.94" y="171.50" width="12.00" height="2.60" rx="1.30" fill="#888" opacity="0.35" filter="url(#b05)"/>
<rect x="422.58" y="171.50" width="12.00" height="2.60" rx="1.30" fill="#888" opacity="0.35" filter="url(#b05)"/>
<rect x="437.66" y="171.50" width="12.00" height="2.60" rx="1.30" fill="#888" opacity="0.35" filter="url(#b05)"/>
<rect x="393.52" y="145.30" width="11.00" height="2.60" rx="1.30" fill="#888" opacity="0.35" filter="url(#b05)"/>
<rect x="408.50" y="145.30" width="11.00" height="2.60" rx="1.30" fill="#888" opacity="0.35" filter="url(#b05)"/>
<rect x="467.92" y="145.30" width="11.00" height="2.60" rx="1.30" fill="#888" opacity="0.35" filter="url(#b05)"/>
<rect x="332.50" y="149.20" width="11.00" height="2.60" rx="1.30" fill="#999" opacity="0.2" filter="url(#b05)"/>
<rect x="347.98" y="149.20" width="11.00" height="2.60" rx="1.30" fill="#999" opacity="0.2" filter="url(#b05)"/>
<rect x="482.20" y="220.50" width="12.00" height="3.00" rx="1.50" fill="#888" opacity="0.3" filter="url(#b1)"/>
<rect x="482.20" y="227.50" width="12.00" height="3.00" rx="1.50" fill="#999" opacity="0.2" filter="url(#b1)"/>
<rect x="486.20" y="277.25" width="4.00" height="1.50" rx="0.75" fill="#999" opacity="0.4" filter="url(#b05)"/>
<rect x="315.8" y="121.0" width="180.20000000000005" height="171.6" fill="none" stroke="#111" stroke-width="1.2"/>
<line x1="336.20" y1="116.70" x2="336.20" y2="120.40" stroke="#111" stroke-width="1"/>
<text x="340.10" y="112.60" font-size="11.4" transform="rotate(-90 340.10 112.6)">HRPII WT</text>
<line x1="351.40" y1="116.70" x2="351.40" y2="120.40" stroke="#111" stroke-width="1"/>
<text x="355.30" y="112.60" font-size="11.4" transform="rotate(-90 355.30 112.6)">HRPII RLE&gt;A</text>
<line x1="366.60" y1="116.70" x2="366.60" y2="120.40" stroke="#111" stroke-width="1"/>
<text x="370.50" y="112.60" font-size="11.4" transform="rotate(-90 370.50 112.6)">KAHRP WT</text>
<line x1="381.30" y1="116.70" x2="381.30" y2="120.40" stroke="#111" stroke-width="1"/>
<text x="385.20" y="112.60" font-size="11.4" transform="rotate(-90 385.20 112.6)">KAHRP RLQ&gt;A</text>
<line x1="396.10" y1="116.70" x2="396.10" y2="120.40" stroke="#111" stroke-width="1"/>
<text x="400.00" y="112.60" font-size="11.4" transform="rotate(-90 400.00 112.6)">GBP130 WT</text>
<line x1="410.80" y1="116.70" x2="410.80" y2="120.40" stroke="#111" stroke-width="1"/>
<text x="414.70" y="112.60" font-size="11.4" transform="rotate(-90 414.70 112.6)">GBP130 RLE&gt;A</text>
<line x1="425.10" y1="116.70" x2="425.10" y2="120.40" stroke="#111" stroke-width="1"/>
<text x="429.00" y="112.60" font-size="11.4" transform="rotate(-90 429.00 112.6)">GBP130<tspan font-size="9.0" dy="2.6">66–83</tspan></text>
<line x1="439.90" y1="116.70" x2="439.90" y2="120.40" stroke="#111" stroke-width="1"/>
<text x="443.80" y="112.60" font-size="11.4" transform="rotate(-90 443.80 112.6)">GBP130<tspan font-size="9.0" dy="2.6">66–88</tspan></text>
<line x1="454.50" y1="116.70" x2="454.50" y2="120.40" stroke="#111" stroke-width="1"/>
<text x="458.40" y="112.60" font-size="11.4" transform="rotate(-90 458.40 112.6)">GBP130<tspan font-size="9.0" dy="2.6">84–196</tspan></text>
<line x1="469.10" y1="116.70" x2="469.10" y2="120.40" stroke="#111" stroke-width="1"/>
<text x="473.00" y="112.60" font-size="11.4" transform="rotate(-90 473.00 112.6)">GBP130<tspan font-size="9.0" dy="2.6">89–196</tspan></text>
<line x1="483.60" y1="116.70" x2="483.60" y2="120.40" stroke="#111" stroke-width="1"/>
<text x="487.50" y="112.60" font-size="11.4" transform="rotate(-90 487.50 112.6)">PfEMP1 WT</text>
<line x1="573.40" y1="98.50" x2="573.40" y2="302.30" stroke="#47478a" stroke-width="1.1"/>
<line x1="572.80" y1="301.80" x2="818.00" y2="301.80" stroke="#47478a" stroke-width="1.1"/>
<line x1="570.60" y1="99.70" x2="573.40" y2="99.70" stroke="#47478a" stroke-width="1.1"/>
<text x="566.60" y="103.60" font-size="11.45" text-anchor="end">6,000</text>
<line x1="570.60" y1="167.00" x2="573.40" y2="167.00" stroke="#47478a" stroke-width="1.1"/>
<text x="566.60" y="170.90" font-size="11.45" text-anchor="end">4,000</text>
<line x1="570.60" y1="234.30" x2="573.40" y2="234.30" stroke="#47478a" stroke-width="1.1"/>
<text x="566.60" y="238.20" font-size="11.45" text-anchor="end">2,000</text>
<line x1="570.60" y1="301.60" x2="573.40" y2="301.60" stroke="#47478a" stroke-width="1.1"/>
<text x="566.60" y="305.50" font-size="11.45" text-anchor="end">0</text>
<text x="573.40" y="319.00" font-size="11.45" text-anchor="middle">0</text>
<line x1="622.26" y1="301.80" x2="622.26" y2="304.90" stroke="#47478a" stroke-width="1.1"/>
<text x="622.26" y="319.00" font-size="11.45" text-anchor="middle">100</text>
<line x1="671.12" y1="301.80" x2="671.12" y2="304.90" stroke="#47478a" stroke-width="1.1"/>
<text x="671.12" y="319.00" font-size="11.45" text-anchor="middle">200</text>
<line x1="719.98" y1="301.80" x2="719.98" y2="304.90" stroke="#47478a" stroke-width="1.1"/>
<text x="719.98" y="319.00" font-size="11.45" text-anchor="middle">300</text>
<line x1="768.84" y1="301.80" x2="768.84" y2="304.90" stroke="#47478a" stroke-width="1.1"/>
<text x="768.84" y="319.00" font-size="11.45" text-anchor="middle">400</text>
<line x1="817.70" y1="301.80" x2="817.70" y2="304.90" stroke="#47478a" stroke-width="1.1"/>
<text x="817.70" y="319.00" font-size="11.45" text-anchor="middle">500</text>
<text x="698.40" y="336.70" font-size="11.55" text-anchor="middle">Time (s)</text>
<text x="529.60" y="201.00" font-size="11.55" text-anchor="middle" transform="rotate(-90 529.6 201.0)">Response (R.U)</text>
<rect x="573.6" y="295.3" width="244" height="6.5" fill="#f2f2f2"/>
<path d="M603.69,301.60 C603.86,300.76 604.18,299.36 604.67,296.55 C605.16,293.75 605.89,289.12 606.62,284.78 C607.36,280.43 608.17,274.99 609.07,270.51 C609.96,266.02 610.98,261.54 612.00,257.86 C613.02,254.17 613.87,251.20 615.18,248.40 C616.48,245.60 618.15,243.03 619.82,241.03 C621.49,239.03 622.75,237.84 625.19,236.39 C627.63,234.93 631.14,233.28 634.48,232.28 C637.81,231.28 641.56,230.79 645.22,230.40 C648.89,230.00 653.12,229.93 656.46,229.93 C659.80,229.93 661.59,230.06 665.26,230.40 C668.92,230.73 674.13,231.35 678.45,231.94 C682.76,232.54 687.49,233.29 691.15,233.96 C694.82,234.64 696.36,235.07 700.44,235.98 C704.51,236.89 709.88,238.12 715.58,239.41 C721.28,240.70 728.20,242.33 734.64,243.72 C741.07,245.11 747.02,246.31 754.18,247.76 C761.35,249.21 773.73,251.63 777.63,252.40" fill="none" stroke="#cfcfcf" stroke-width="1.5" stroke-dasharray="3.2,2.2"/>
<path d="M603.69,301.60 C603.82,297.11 604.10,284.21 604.43,274.68 C604.75,265.15 604.96,251.41 605.65,244.40 C606.34,237.38 607.15,235.97 608.58,232.62 C610.00,229.27 612.10,226.53 614.20,224.31 C616.30,222.09 618.21,220.60 621.19,219.29 C624.16,217.99 628.03,217.13 632.03,216.47 C636.04,215.80 640.34,215.34 645.22,215.29 C650.11,215.23 656.32,215.79 661.35,216.13 C666.38,216.47 671.35,217.03 675.42,217.31 C679.49,217.59 683.16,217.91 685.78,217.81 C688.40,217.71 689.69,216.31 691.15,216.70 C692.62,217.09 693.19,218.73 694.57,220.17 C695.96,221.60 697.26,223.75 699.46,225.32 C701.66,226.89 705.08,228.41 707.76,229.59 C710.45,230.77 711.10,230.96 715.58,232.42 C720.06,233.87 728.20,236.68 734.64,238.34 C741.07,240.00 747.02,241.03 754.18,242.38 C761.35,243.72 773.73,245.74 777.63,246.41" fill="none" stroke="#9a9a9a" stroke-width="1.5" stroke-dasharray="3.2,2.2"/>
<path d="M603.69,301.60 C603.77,295.99 603.94,280.29 604.18,267.95 C604.43,255.61 604.59,236.54 605.16,227.57 C605.73,218.60 606.43,217.49 607.60,214.11 C608.77,210.73 610.40,209.05 612.19,207.31 C613.99,205.57 616.19,204.53 618.35,203.68 C620.52,202.83 620.71,202.55 625.19,202.20 C629.67,201.85 639.20,201.57 645.22,201.59 C651.25,201.61 656.32,202.06 661.35,202.33 C666.38,202.60 671.35,203.10 675.42,203.21 C679.49,203.32 683.16,203.24 685.78,203.01 C688.40,202.77 689.69,201.07 691.15,201.79 C692.62,202.52 693.19,205.29 694.57,207.38 C695.96,209.47 697.26,212.18 699.46,214.31 C701.66,216.44 705.08,218.50 707.76,220.17 C710.45,221.83 711.92,222.90 715.58,224.31 C719.25,225.71 724.78,227.23 729.75,228.58 C734.72,229.93 740.09,231.24 745.39,232.42 C750.68,233.59 756.14,234.65 761.51,235.65 C766.89,236.64 774.95,237.95 777.63,238.41" fill="none" stroke="#555555" stroke-width="1.5" stroke-dasharray="3.2,2.2"/>
<path d="M603.69,301.60 C603.77,294.87 603.98,275.24 604.18,261.22 C604.39,247.20 604.51,226.73 604.91,217.48 C605.32,208.22 605.85,208.28 606.62,205.70 C607.40,203.12 608.46,202.91 609.56,202.00 C610.66,201.08 611.10,201.45 613.22,200.21 C615.34,198.98 618.58,196.26 622.26,194.59 C625.94,192.92 630.42,191.25 635.31,190.18 C640.19,189.12 646.58,188.70 651.58,188.20 C656.57,187.70 660.78,187.58 665.26,187.19 C669.74,186.80 674.24,186.28 678.45,185.84 C682.66,185.41 688.01,184.04 690.52,184.60 C693.03,185.16 692.50,187.32 693.50,189.21 C694.50,191.10 695.53,193.77 696.53,195.94 C697.52,198.10 697.83,200.23 699.46,202.20 C701.09,204.16 703.61,206.03 706.30,207.72 C708.99,209.40 711.67,210.83 715.58,212.29 C719.49,213.75 724.78,215.30 729.75,216.47 C734.72,217.63 740.09,218.39 745.39,219.29 C750.68,220.19 756.14,221.08 761.51,221.85 C766.89,222.62 774.95,223.56 777.63,223.90" fill="none" stroke="#111111" stroke-width="1.5" stroke-dasharray="3.2,2.2"/>
<path d="M573.40,301.60 C578.45,301.60 598.48,301.94 603.69,301.60 C608.90,301.26 590.18,300.25 604.67,299.58 C619.17,298.91 676.17,297.76 690.66,297.56 C705.16,297.37 676.98,298.18 691.64,298.40 C706.30,298.63 764.12,298.82 778.61,298.91" fill="none" stroke="#222" stroke-width="1.2" stroke-dasharray="1.5,1.2"/>
<path d="M573.40,301.33 C578.45,301.33 597.99,301.45 603.69,301.33 C609.39,301.21 600.44,300.99 607.60,300.59 C614.77,300.19 632.85,299.30 646.69,298.91 C660.53,298.52 682.93,298.35 690.66,298.24 C698.40,298.12 678.45,298.19 693.11,298.24 C707.76,298.28 764.36,298.46 778.61,298.50" fill="none" stroke="#e02424" stroke-width="1.3"/>
<line x1="691.15" y1="299.60" x2="691.15" y2="304.60" stroke="#e02424" stroke-width="1"/>
<rect x="573.60" y="295.30" width="244.00" height="6.50" fill="none" stroke="#111" stroke-width="1.1"/>
<text x="792.60" y="272.00" font-size="11.55">Inset</text>
<line x1="803.60" y1="277.80" x2="798.20" y2="286.80" stroke="#111" stroke-width="1.6"/>
<path d="M793.6,293.4 L795.0,284.4 L801.6,288.4 Z" fill="#111"/>
<rect x="637.50" y="15.90" width="175.00" height="144.10" fill="#f2f2f2" stroke="none" stroke-width="0"/>
<clipPath id="ic"><rect x="637.5" y="15.9" width="176" height="152"/></clipPath>
<g clip-path="url(#ic)">
<path d="M637.50,160.00 L659.13,160.00 C659.18,156.76 659.28,145.95 659.41,140.55 C659.54,135.14 659.47,130.28 659.90,127.58 C660.33,124.87 661.07,125.62 662.00,124.30 C662.93,122.98 664.33,121.06 665.50,119.65 C666.67,118.24 667.83,116.99 669.00,115.84 C670.17,114.68 671.33,113.66 672.50,112.72 C673.67,111.77 674.83,110.94 676.00,110.16 C677.17,109.39 678.33,108.70 679.50,108.07 C680.67,107.43 681.83,106.88 683.00,106.36 C684.17,105.84 685.33,105.38 686.50,104.95 C687.67,104.53 688.83,104.15 690.00,103.81 C691.17,103.46 692.33,103.15 693.50,102.87 C694.67,102.58 695.83,102.33 697.00,102.10 C698.17,101.86 699.33,101.66 700.50,101.47 C701.67,101.28 702.83,101.11 704.00,100.95 C705.17,100.79 706.33,100.66 707.50,100.53 C708.67,100.40 709.83,100.29 711.00,100.18 C712.17,100.08 713.33,99.99 714.50,99.90 C715.67,99.81 716.83,99.74 718.00,99.67 C719.17,99.60 720.87,98.40 721.50,99.48 C722.13,100.56 721.55,104.96 721.78,106.14 C722.01,107.31 722.36,106.29 722.90,106.55 C723.44,106.81 724.18,107.29 725.00,107.71 C725.82,108.14 726.75,108.62 727.80,109.09 C728.85,109.57 730.02,110.09 731.30,110.58 C732.58,111.08 733.63,111.51 735.50,112.08 C737.37,112.64 739.88,113.39 742.50,113.99 C745.12,114.58 748.33,115.19 751.25,115.65 C754.17,116.10 756.79,116.42 760.00,116.74 C763.21,117.06 766.42,117.33 770.50,117.58 C774.58,117.82 782.17,118.11 784.50,118.21" fill="none" stroke="#d0d0d0" stroke-width="1.1" stroke-dasharray="1.2,1.2"/>
<path d="M637.50,160.00 L659.13,160.00 C659.18,156.04 659.28,142.83 659.41,136.22 C659.54,129.62 659.47,123.50 659.90,120.37 C660.33,117.24 661.07,118.62 662.00,117.43 C662.93,116.25 664.33,114.52 665.50,113.26 C666.67,111.99 667.83,110.87 669.00,109.84 C670.17,108.80 671.33,107.88 672.50,107.03 C673.67,106.19 674.83,105.44 676.00,104.74 C677.17,104.05 678.33,103.43 679.50,102.86 C680.67,102.30 681.83,101.79 683.00,101.33 C684.17,100.86 685.33,100.45 686.50,100.07 C687.67,99.69 688.83,99.35 690.00,99.04 C691.17,98.73 692.33,98.45 693.50,98.20 C694.67,97.94 695.83,97.71 697.00,97.51 C698.17,97.30 699.33,97.11 700.50,96.94 C701.67,96.77 702.83,96.62 704.00,96.48 C705.17,96.34 706.33,96.21 707.50,96.10 C708.67,95.98 709.83,95.88 711.00,95.79 C712.17,95.69 713.33,95.61 714.50,95.53 C715.67,95.46 716.83,95.39 718.00,95.33 C719.17,95.26 720.87,93.99 721.50,95.16 C722.13,96.32 721.55,101.01 721.78,102.29 C722.01,103.56 722.36,102.48 722.90,102.81 C723.44,103.14 724.18,103.74 725.00,104.27 C725.82,104.81 726.75,105.41 727.80,106.01 C728.85,106.62 730.02,107.26 731.30,107.89 C732.58,108.51 733.63,109.05 735.50,109.77 C737.37,110.48 739.88,111.43 742.50,112.18 C745.12,112.93 748.33,113.68 751.25,114.26 C754.17,114.84 756.79,115.23 760.00,115.64 C763.21,116.05 766.42,116.39 770.50,116.69 C774.58,117.00 782.17,117.36 784.50,117.49" fill="none" stroke="#b0b0b0" stroke-width="1.1" stroke-dasharray="1.2,1.2"/>
<path d="M637.50,160.00 L659.13,160.00 C659.18,155.53 659.28,140.64 659.41,133.20 C659.54,125.75 659.47,118.78 659.90,115.33 C660.33,111.88 661.07,113.63 662.00,112.47 C662.93,111.32 664.33,109.65 665.50,108.42 C666.67,107.19 667.83,106.10 669.00,105.09 C670.17,104.09 671.33,103.20 672.50,102.37 C673.67,101.55 674.83,100.82 676.00,100.15 C677.17,99.47 678.33,98.87 679.50,98.32 C680.67,97.77 681.83,97.28 683.00,96.83 C684.17,96.38 685.33,95.98 686.50,95.61 C687.67,95.24 688.83,94.91 690.00,94.61 C691.17,94.30 692.33,94.03 693.50,93.79 C694.67,93.54 695.83,93.32 697.00,93.11 C698.17,92.91 699.33,92.73 700.50,92.57 C701.67,92.40 702.83,92.25 704.00,92.12 C705.17,91.98 706.33,91.86 707.50,91.75 C708.67,91.64 709.83,91.54 711.00,91.45 C712.17,91.35 713.33,91.27 714.50,91.20 C715.67,91.12 716.83,91.06 718.00,91.00 C719.17,90.94 720.87,89.59 721.50,90.83 C722.13,92.07 721.55,97.07 721.78,98.44 C722.01,99.81 722.36,98.66 722.90,99.04 C723.44,99.43 724.18,100.12 725.00,100.74 C725.82,101.36 726.75,102.06 727.80,102.76 C728.85,103.45 730.02,104.20 731.30,104.93 C732.58,105.65 733.63,106.27 735.50,107.10 C737.37,107.93 739.88,109.03 742.50,109.89 C745.12,110.76 748.33,111.64 751.25,112.31 C754.17,112.98 756.79,113.44 760.00,113.91 C763.21,114.38 766.42,114.77 770.50,115.13 C774.58,115.49 782.17,115.90 784.50,116.05" fill="none" stroke="#8a8a8a" stroke-width="1.1" stroke-dasharray="1.2,1.2"/>
<path d="M637.50,160.00 L659.13,160.00 C659.18,154.81 659.28,137.52 659.41,128.87 C659.54,120.23 659.47,112.06 659.90,108.12 C660.33,104.19 661.07,106.42 662.00,105.27 C662.93,104.12 664.33,102.44 665.50,101.21 C666.67,99.98 667.83,98.90 669.00,97.89 C670.17,96.88 671.33,95.99 672.50,95.17 C673.67,94.34 674.83,93.62 676.00,92.94 C677.17,92.26 678.33,91.67 679.50,91.12 C680.67,90.56 681.83,90.08 683.00,89.62 C684.17,89.17 685.33,88.77 686.50,88.40 C687.67,88.03 688.83,87.70 690.00,87.40 C691.17,87.10 692.33,86.83 693.50,86.58 C694.67,86.33 695.83,86.11 697.00,85.91 C698.17,85.71 699.33,85.53 700.50,85.36 C701.67,85.19 702.83,85.05 704.00,84.91 C705.17,84.77 706.33,84.65 707.50,84.54 C708.67,84.43 709.83,84.33 711.00,84.24 C712.17,84.15 713.33,84.07 714.50,83.99 C715.67,83.92 716.83,83.85 718.00,83.79 C719.17,83.73 720.87,82.25 721.50,83.63 C722.13,85.00 721.55,90.50 721.78,92.03 C722.01,93.55 722.36,92.30 722.90,92.78 C723.44,93.25 724.18,94.11 725.00,94.88 C725.82,95.65 726.75,96.52 727.80,97.38 C728.85,98.25 730.02,99.18 731.30,100.08 C732.58,100.98 733.63,101.75 735.50,102.78 C737.37,103.81 739.88,105.17 742.50,106.25 C745.12,107.32 748.33,108.41 751.25,109.24 C754.17,110.07 756.79,110.64 760.00,111.23 C763.21,111.81 766.42,112.30 770.50,112.74 C774.58,113.19 782.17,113.70 784.50,113.89" fill="none" stroke="#555" stroke-width="1.1" stroke-dasharray="1.2,1.2"/>
<path d="M637.50,160.00 L659.13,160.00 C659.18,155.82 659.28,141.89 659.41,134.93 C659.54,127.96 659.47,121.47 659.90,118.21 C660.33,114.95 661.07,116.51 662.00,115.36 C662.93,114.20 664.33,112.53 665.50,111.30 C666.67,110.07 667.83,108.98 669.00,107.97 C670.17,106.97 671.33,106.08 672.50,105.25 C673.67,104.43 674.83,103.70 676.00,103.03 C677.17,102.35 678.33,101.76 679.50,101.20 C680.67,100.65 681.83,100.16 683.00,99.71 C684.17,99.26 685.33,98.86 686.50,98.49 C687.67,98.12 688.83,97.79 690.00,97.49 C691.17,97.18 692.33,96.92 693.50,96.67 C694.67,96.42 695.83,96.20 697.00,96.00 C698.17,95.79 699.33,95.61 700.50,95.45 C701.67,95.28 702.83,95.13 704.00,95.00 C705.17,94.86 706.33,94.74 707.50,94.63 C708.67,94.52 709.83,94.42 711.00,94.33 C712.17,94.24 713.33,94.16 714.50,94.08 C715.67,94.01 716.83,93.94 718.00,93.88 C719.17,93.82 720.87,92.53 721.50,93.71 C722.13,94.90 721.55,99.69 721.78,101.01 C722.01,102.32 722.36,101.22 722.90,101.60 C723.44,101.97 724.18,102.65 725.00,103.25 C725.82,103.86 726.75,104.54 727.80,105.22 C728.85,105.90 730.02,106.64 731.30,107.34 C732.58,108.05 733.63,108.66 735.50,109.47 C737.37,110.28 739.88,111.35 742.50,112.20 C745.12,113.04 748.33,113.90 751.25,114.56 C754.17,115.21 756.79,115.66 760.00,116.12 C763.21,116.58 766.42,116.96 770.50,117.31 C774.58,117.66 782.17,118.06 784.50,118.21" fill="none" stroke="#d8d8d8" stroke-width="1.1"/>
<path d="M637.50,160.00 L659.13,160.00 C659.18,155.24 659.28,139.39 659.41,131.47 C659.54,123.54 659.47,116.06 659.90,112.45 C660.33,108.83 661.07,110.84 662.00,109.76 C662.93,108.68 664.33,107.10 665.50,105.94 C666.67,104.78 667.83,103.76 669.00,102.81 C670.17,101.87 671.33,101.03 672.50,100.25 C673.67,99.48 674.83,98.79 676.00,98.16 C677.17,97.52 678.33,96.96 679.50,96.44 C680.67,95.92 681.83,95.46 683.00,95.03 C684.17,94.61 685.33,94.23 686.50,93.88 C687.67,93.54 688.83,93.23 690.00,92.94 C691.17,92.66 692.33,92.40 693.50,92.17 C694.67,91.94 695.83,91.73 697.00,91.54 C698.17,91.35 699.33,91.18 700.50,91.02 C701.67,90.87 702.83,90.73 704.00,90.60 C705.17,90.47 706.33,90.36 707.50,90.25 C708.67,90.15 709.83,90.06 711.00,89.97 C712.17,89.88 713.33,89.81 714.50,89.74 C715.67,89.67 716.83,89.60 718.00,89.55 C719.17,89.49 720.87,88.12 721.50,89.39 C722.13,90.66 721.55,95.75 721.78,97.16 C722.01,98.56 722.36,97.40 722.90,97.83 C723.44,98.26 724.18,99.03 725.00,99.72 C725.82,100.41 726.75,101.19 727.80,101.96 C728.85,102.74 730.02,103.58 731.30,104.38 C732.58,105.19 733.63,105.88 735.50,106.80 C737.37,107.73 739.88,108.95 742.50,109.91 C745.12,110.88 748.33,111.86 751.25,112.60 C754.17,113.35 756.79,113.86 760.00,114.38 C763.21,114.91 766.42,115.35 770.50,115.74 C774.58,116.14 782.17,116.60 784.50,116.77" fill="none" stroke="#bdbdbd" stroke-width="1.1"/>
<path d="M637.50,160.00 L659.13,160.00 C659.18,154.81 659.28,137.52 659.41,128.87 C659.54,120.23 659.47,112.11 659.90,108.12 C660.33,104.13 661.07,106.22 662.00,104.93 C662.93,103.65 664.33,101.77 665.50,100.40 C666.67,99.02 667.83,97.81 669.00,96.68 C670.17,95.56 671.33,94.56 672.50,93.64 C673.67,92.72 674.83,91.91 676.00,91.15 C677.17,90.40 678.33,89.73 679.50,89.12 C680.67,88.50 681.83,87.95 683.00,87.45 C684.17,86.94 685.33,86.49 686.50,86.08 C687.67,85.67 688.83,85.30 690.00,84.96 C691.17,84.62 692.33,84.32 693.50,84.05 C694.67,83.77 695.83,83.52 697.00,83.30 C698.17,83.07 699.33,82.87 700.50,82.68 C701.67,82.50 702.83,82.33 704.00,82.18 C705.17,82.03 706.33,81.89 707.50,81.77 C708.67,81.64 709.83,81.53 711.00,81.43 C712.17,81.33 713.33,81.24 714.50,81.16 C715.67,81.07 716.83,81.00 718.00,80.93 C719.17,80.86 720.87,79.32 721.50,80.74 C722.13,82.17 721.55,87.88 721.78,89.46 C722.01,91.05 722.36,89.75 722.90,90.25 C723.44,90.75 724.18,91.66 725.00,92.46 C725.82,93.27 726.75,94.18 727.80,95.09 C728.85,96.01 730.02,96.98 731.30,97.93 C732.58,98.88 733.63,99.69 735.50,100.77 C737.37,101.85 739.88,103.28 742.50,104.41 C745.12,105.55 748.33,106.69 751.25,107.56 C754.17,108.44 756.79,109.04 760.00,109.65 C763.21,110.26 766.42,110.78 770.50,111.24 C774.58,111.71 782.17,112.25 784.50,112.45" fill="none" stroke="#8a8a8a" stroke-width="1.1"/>
<path d="M637.50,160.00 L659.13,160.00 C659.18,153.95 659.28,133.77 659.41,123.69 C659.54,113.60 659.47,104.11 659.90,99.48 C660.33,94.84 661.07,97.32 662.00,95.87 C662.93,94.41 664.33,92.29 665.50,90.73 C666.67,89.18 667.83,87.81 669.00,86.53 C670.17,85.26 671.33,84.13 672.50,83.09 C673.67,82.05 674.83,81.13 676.00,80.27 C677.17,79.42 678.33,78.67 679.50,77.97 C680.67,77.27 681.83,76.65 683.00,76.08 C684.17,75.51 685.33,75.00 686.50,74.53 C687.67,74.07 688.83,73.65 690.00,73.27 C691.17,72.88 692.33,72.55 693.50,72.23 C694.67,71.92 695.83,71.64 697.00,71.38 C698.17,71.13 699.33,70.90 700.50,70.69 C701.67,70.48 702.83,70.29 704.00,70.12 C705.17,69.95 706.33,69.80 707.50,69.65 C708.67,69.51 709.83,69.39 711.00,69.27 C712.17,69.16 713.33,69.06 714.50,68.96 C715.67,68.87 716.83,68.78 718.00,68.71 C719.17,68.63 720.87,66.85 721.50,68.50 C722.13,70.14 721.55,76.77 721.78,78.58 C722.01,80.40 722.36,78.88 722.90,79.40 C723.44,79.92 724.18,80.85 725.00,81.69 C725.82,82.52 726.75,83.47 727.80,84.41 C728.85,85.35 730.02,86.36 731.30,87.34 C732.58,88.32 733.63,89.16 735.50,90.28 C737.37,91.40 739.88,92.88 742.50,94.05 C745.12,95.22 748.33,96.41 751.25,97.31 C754.17,98.21 756.79,98.83 760.00,99.47 C763.21,100.10 766.42,100.63 770.50,101.12 C774.58,101.60 782.17,102.15 784.50,102.36" fill="none" stroke="#222" stroke-width="1.0"/>
<path d="M637.50,160.00 L659.02,160.00 L659.73,12.30" fill="none" stroke="#ccc" stroke-width="1.3" stroke-dasharray="2.2,1.5"/>
<path d="M637.50,160.00 L659.02,160.00 L660.25,12.30" fill="none" stroke="#999" stroke-width="1.3" stroke-dasharray="2.2,1.5"/>
<path d="M637.50,160.00 L659.02,160.00 L660.95,12.30" fill="none" stroke="#555" stroke-width="1.3" stroke-dasharray="2.2,1.5"/>
<path d="M637.50,160.00 L659.02,160.00 L670.05,12.30" fill="none" stroke="#111" stroke-width="1.3" stroke-dasharray="2.2,1.5"/>
<path d="M637.50,160.00 L658.85,160.00 C658.91,160.96 659.08,165.76 659.20,165.76 C659.32,165.76 659.32,163.12 659.55,160.00 C659.78,156.88 659.96,151.35 660.60,147.03 C661.24,142.71 662.29,137.90 663.40,134.06 C664.51,130.22 665.63,127.17 667.25,123.97 C668.87,120.78 670.76,117.78 673.10,114.90 C675.43,112.01 678.51,108.96 681.25,106.68 C683.99,104.40 686.59,103.01 689.51,101.21 C692.43,99.41 695.55,97.47 698.75,95.88 C701.95,94.28 704.98,93.10 708.69,91.62 C712.40,90.15 718.82,88.71 721.01,87.01 C723.20,85.32 721.54,81.79 721.85,81.47 C722.16,81.14 722.38,83.99 722.90,85.07 C723.42,86.15 724.07,87.17 725.00,87.95 C725.93,88.73 727.16,89.35 728.50,89.75 C729.84,90.15 730.72,90.03 733.05,90.33 C735.38,90.63 738.59,91.11 742.50,91.55 C746.41,92.00 751.83,92.68 756.50,92.99 C761.17,93.31 765.83,93.31 770.50,93.43 C775.17,93.55 782.17,93.67 784.50,93.71" fill="none" stroke="#e02424" stroke-width="1.3"/>
</g>
<path d="M722.2,77.7 l-1.8,4 l3.6,0 Z" fill="#e02424" stroke="none" stroke-width="1"/>
<path d="M733.0,92.8 l-2,-4 l4,0 Z" fill="#c01818" stroke="none" stroke-width="1"/>
<line x1="637.50" y1="15.40" x2="637.50" y2="160.60" stroke="#47478a" stroke-width="1.1"/>
<line x1="636.90" y1="160.00" x2="812.50" y2="160.00" stroke="#47478a" stroke-width="1.1"/>
<line x1="634.60" y1="160.00" x2="637.50" y2="160.00" stroke="#47478a" stroke-width="1.1"/>
<text x="629.60" y="163.90" font-size="11.45" text-anchor="end">0</text>
<line x1="634.60" y1="123.97" x2="637.50" y2="123.97" stroke="#47478a" stroke-width="1.1"/>
<text x="629.60" y="127.88" font-size="11.45" text-anchor="end">50</text>
<line x1="634.60" y1="87.95" x2="637.50" y2="87.95" stroke="#47478a" stroke-width="1.1"/>
<text x="629.60" y="91.85" font-size="11.45" text-anchor="end">100</text>
<line x1="634.60" y1="51.92" x2="637.50" y2="51.92" stroke="#47478a" stroke-width="1.1"/>
<text x="629.60" y="55.82" font-size="11.45" text-anchor="end">150</text>
<line x1="634.60" y1="15.90" x2="637.50" y2="15.90" stroke="#47478a" stroke-width="1.1"/>
<text x="629.60" y="19.80" font-size="11.45" text-anchor="end">200</text>
<text x="637.50" y="176.40" font-size="11.45" text-anchor="middle">0</text>
<line x1="672.50" y1="160.00" x2="672.50" y2="163.00" stroke="#47478a" stroke-width="1.1"/>
<text x="672.50" y="176.40" font-size="11.45" text-anchor="middle">100</text>
<line x1="707.50" y1="160.00" x2="707.50" y2="163.00" stroke="#47478a" stroke-width="1.1"/>
<text x="707.50" y="176.40" font-size="11.45" text-anchor="middle">200</text>
<line x1="742.50" y1="160.00" x2="742.50" y2="163.00" stroke="#47478a" stroke-width="1.1"/>
<text x="742.50" y="176.40" font-size="11.45" text-anchor="middle">300</text>
<line x1="777.50" y1="160.00" x2="777.50" y2="163.00" stroke="#47478a" stroke-width="1.1"/>
<text x="777.50" y="176.40" font-size="11.45" text-anchor="middle">400</text>
<line x1="812.50" y1="160.00" x2="812.50" y2="163.00" stroke="#47478a" stroke-width="1.1"/>
<text x="812.50" y="176.40" font-size="11.45" text-anchor="middle">500</text>
<text x="727.70" y="194.20" font-size="11.55" text-anchor="middle">Time (s)</text>
<text x="602.00" y="87.50" font-size="11.55" text-anchor="middle" transform="rotate(-90 602.0 87.5)">Response (R.U)</text>
<text x="713.00" y="32.80" font-size="11.55">Inset</text>
<text x="724.20" y="69.80" font-size="9.7">-HRPII<tspan font-size="6.8" dy="-3.9">WT</tspan></text>
<text x="724.20" y="82.90" font-size="9.7">-HRPII<tspan font-size="6.8" dy="-3.9">RLE&gt;A</tspan></text>
<text x="764.00" y="90.60" font-size="9.7" fill="#e02424">BSA</text>
<line x1="829.00" y1="47.90" x2="840.50" y2="47.90" stroke="#c8c8d6" stroke-width="1.1" stroke-dasharray="2.2,1.6"/>
<text x="845.60" y="51.70" font-size="11.45" fill="#242a7c">p40PX 0.25 µM</text>
<line x1="829.00" y1="63.20" x2="840.50" y2="63.20" stroke="#999" stroke-width="1.1" stroke-dasharray="2.2,1.6"/>
<text x="845.60" y="67.00" font-size="11.45" fill="#242a7c">p40PX 0.5 µM</text>
<line x1="829.00" y1="78.80" x2="840.50" y2="78.80" stroke="#444" stroke-width="1.1" stroke-dasharray="2.2,1.6"/>
<text x="845.60" y="82.60" font-size="11.45" fill="#242a7c">p40PX 1 µM</text>
<line x1="829.00" y1="94.80" x2="840.50" y2="94.80" stroke="#111" stroke-width="1.1" stroke-dasharray="2.2,1.6"/>
<text x="845.60" y="98.60" font-size="11.45" fill="#242a7c">p40PX 2 µM</text>
<line x1="829.00" y1="112.10" x2="840.50" y2="112.10" stroke="#d0d0d0" stroke-width="1.1"/>
<text x="845.60" y="115.90" font-size="11.45" fill="#242a7c">HRPII<tspan font-size="8.4" dy="-3.7">WT</tspan><tspan dy="3.7"> 0.25 µM</tspan></text>
<line x1="829.00" y1="128.10" x2="840.50" y2="128.10" stroke="#b0b0b0" stroke-width="1.1"/>
<text x="845.60" y="131.90" font-size="11.45" fill="#242a7c">HRPII<tspan font-size="8.4" dy="-3.7">WT</tspan><tspan dy="3.7"> 0.5 µM</tspan></text>
<line x1="829.00" y1="143.70" x2="840.50" y2="143.70" stroke="#888" stroke-width="1.1"/>
<text x="845.60" y="147.50" font-size="11.45" fill="#242a7c">HRPII<tspan font-size="8.4" dy="-3.7">WT</tspan><tspan dy="3.7"> 1 µM</tspan></text>
<line x1="829.00" y1="159.60" x2="840.50" y2="159.60" stroke="#111" stroke-width="1.1"/>
<text x="845.60" y="163.40" font-size="11.45" fill="#242a7c">HRPII<tspan font-size="8.4" dy="-3.7">WT</tspan><tspan dy="3.7"> 2 µM</tspan></text>
<line x1="829.00" y1="175.70" x2="840.50" y2="175.70" stroke="#d0d0d0" stroke-width="1.1" stroke-dasharray="1,1.2"/>
<text x="845.60" y="179.50" font-size="11.45" fill="#242a7c">HRPII<tspan font-size="8.4" dy="-3.7">RLE&gt;A</tspan><tspan dy="3.7">0.25 µM</tspan></text>
<line x1="829.00" y1="191.70" x2="840.50" y2="191.70" stroke="#aaa" stroke-width="1.1" stroke-dasharray="1,1.2"/>
<text x="845.60" y="195.50" font-size="11.45" fill="#242a7c">HRPII<tspan font-size="8.4" dy="-3.7">RLE&gt;A</tspan><tspan dy="3.7"> 0.5 µM</tspan></text>
<line x1="829.00" y1="207.40" x2="840.50" y2="207.40" stroke="#777" stroke-width="1.1" stroke-dasharray="1,1.2"/>
<text x="845.60" y="211.20" font-size="11.45" fill="#242a7c">HRPII<tspan font-size="8.4" dy="-3.7">RLE&gt;A</tspan><tspan dy="3.7">1 µM</tspan></text>
<line x1="829.00" y1="223.30" x2="840.50" y2="223.30" stroke="#333" stroke-width="1.1" stroke-dasharray="1,1.2"/>
<text x="845.60" y="227.10" font-size="11.45" fill="#242a7c">HRPII<tspan font-size="8.4" dy="-3.7">RLE&gt;A</tspan><tspan dy="3.7"> 2 µM</tspan></text>
<line x1="829.00" y1="236.80" x2="840.50" y2="236.80" stroke="#e02424" stroke-width="1.1"/>
<text x="845.60" y="240.60" font-size="11.45" fill="#242a7c">BSA 2 µM</text>
<text x="152.50" y="378.90" font-size="11.55" text-anchor="middle">150 mM NaCl</text>
<text x="152.50" y="392.00" font-size="11.55" text-anchor="middle">50 mM HEPES</text>
<text x="152.20" y="405.80" font-size="11.55" text-anchor="middle">pH 7.5</text>
<line x1="127.00" y1="412.70" x2="176.70" y2="412.70" stroke="#111" stroke-width="1.1"/>
<text x="226.80" y="392.00" font-size="11.55" text-anchor="middle">PBS</text>
<text x="226.80" y="405.80" font-size="11.55" text-anchor="middle">pH 7.5</text>
<line x1="201.50" y1="412.70" x2="251.50" y2="412.70" stroke="#111" stroke-width="1.1"/>
<text x="136.70" y="427.50" font-size="11.55" text-anchor="middle">PI3P</text>
<text x="169.20" y="427.50" font-size="11.55" text-anchor="middle">PC/PE</text>
<text x="210.90" y="427.50" font-size="11.55" text-anchor="middle">PI3P</text>
<text x="245.60" y="427.50" font-size="11.55" text-anchor="middle">PC/PE</text>
<line x1="127.80" y1="432.50" x2="145.70" y2="432.50" stroke="#111" stroke-width="1.1"/>
<line x1="158.00" y1="432.50" x2="176.00" y2="432.50" stroke="#111" stroke-width="1.1"/>
<line x1="199.20" y1="432.50" x2="217.60" y2="432.50" stroke="#111" stroke-width="1.1"/>
<line x1="233.60" y1="432.50" x2="251.80" y2="432.50" stroke="#111" stroke-width="1.1"/>
<text x="101.20" y="447.60" font-size="11.55" text-anchor="middle">Input</text>
<text x="127.80" y="447.00" font-size="11.55" text-anchor="middle">P</text>
<text x="143.90" y="447.00" font-size="11.55" text-anchor="middle">S</text>
<text x="159.50" y="447.00" font-size="11.55" text-anchor="middle">P</text>
<text x="175.10" y="447.00" font-size="11.55" text-anchor="middle">S</text>
<text x="198.60" y="447.00" font-size="11.55" text-anchor="middle">P</text>
<text x="215.60" y="447.00" font-size="11.55" text-anchor="middle">S</text>
<text x="233.20" y="447.00" font-size="11.55" text-anchor="middle">P</text>
<text x="250.80" y="447.00" font-size="11.55" text-anchor="middle">S</text>
<text x="88.30" y="465.50" font-size="11.55" text-anchor="end">p40PX</text>
<rect x="91.30" y="454.50" width="20.40" height="14.10" fill="#e9e9e9"/>
<rect x="119.90" y="454.50" width="62.70" height="14.10" fill="#e9e9e9"/>
<rect x="191.20" y="454.50" width="66.40" height="14.10" fill="#e9e9e9"/>
<rect x="93.20" y="460.35" width="16.6" height="2.40" rx="1.20" fill="#050505" opacity="0.85" filter="url(#b05)"/>
<rect x="121.50" y="460.25" width="11.00" height="2.60" rx="1.30" fill="#111" opacity="0.63" filter="url(#b07)"/>
<rect x="137.10" y="460.25" width="11.00" height="2.60" rx="1.30" fill="#111" opacity="0.07" filter="url(#b07)"/>
<rect x="153.00" y="459.65" width="12.00" height="3.80" rx="1.90" fill="#111" opacity="0.85" filter="url(#b07)"/>
<rect x="169.00" y="460.25" width="11.00" height="2.60" rx="1.30" fill="#111" opacity="0.32" filter="url(#b07)"/>
<rect x="194.50" y="460.25" width="11.00" height="2.60" rx="1.30" fill="#111" opacity="0.27" filter="url(#b07)"/>
<rect x="211.70" y="460.25" width="11.00" height="2.60" rx="1.30" fill="#111" opacity="0.27" filter="url(#b07)"/>
<rect x="228.10" y="460.25" width="11.00" height="2.60" rx="1.30" fill="#111" opacity="0.50" filter="url(#b07)"/>
<rect x="244.80" y="460.25" width="11.00" height="2.60" rx="1.30" fill="#111" opacity="0.36" filter="url(#b07)"/>
<rect x="91.90" y="455.10" width="19.20" height="12.90" fill="none" stroke="#111" stroke-width="1.2"/>
<rect x="120.50" y="455.10" width="61.50" height="12.90" fill="none" stroke="#111" stroke-width="1.2"/>
<rect x="191.80" y="455.10" width="65.20" height="12.90" fill="none" stroke="#111" stroke-width="1.2"/>
<text x="88.30" y="489.60" font-size="11.55" text-anchor="end">HRPII WT</text>
<rect x="91.30" y="478.60" width="20.40" height="14.30" fill="#e9e9e9"/>
<rect x="119.90" y="478.60" width="62.70" height="14.30" fill="#e9e9e9"/>
<rect x="191.20" y="478.60" width="66.40" height="14.30" fill="#e9e9e9"/>
<rect x="93.20" y="483.75" width="16.6" height="4.00" rx="2.00" fill="#050505" opacity="1.00" filter="url(#b05)"/>
<rect x="121.00" y="484.25" width="12.00" height="3.00" rx="1.50" fill="#111" opacity="0.27" filter="url(#b07)"/>
<rect x="136.60" y="484.25" width="12.00" height="3.00" rx="1.50" fill="#111" opacity="0.23" filter="url(#b07)"/>
<rect x="153.00" y="484.25" width="12.00" height="3.00" rx="1.50" fill="#111" opacity="0.23" filter="url(#b07)"/>
<rect x="168.00" y="483.65" width="13.00" height="4.20" rx="2.10" fill="#111" opacity="0.85" filter="url(#b07)"/>
<rect x="194.00" y="484.25" width="12.00" height="3.00" rx="1.50" fill="#111" opacity="0.23" filter="url(#b07)"/>
<rect x="211.20" y="484.25" width="12.00" height="3.00" rx="1.50" fill="#111" opacity="0.11" filter="url(#b07)"/>
<rect x="227.60" y="484.25" width="12.00" height="3.00" rx="1.50" fill="#111" opacity="0.45" filter="url(#b07)"/>
<rect x="243.80" y="483.65" width="13.00" height="4.20" rx="2.10" fill="#111" opacity="0.85" filter="url(#b07)"/>
<rect x="91.90" y="479.20" width="19.20" height="13.10" fill="none" stroke="#111" stroke-width="1.2"/>
<rect x="120.50" y="479.20" width="61.50" height="13.10" fill="none" stroke="#111" stroke-width="1.2"/>
<rect x="191.80" y="479.20" width="65.20" height="13.10" fill="none" stroke="#111" stroke-width="1.2"/>
<text x="88.30" y="509.80" font-size="11.55" text-anchor="end">HRPII RLE&gt;A</text>
<rect x="91.30" y="498.80" width="20.40" height="14.50" fill="#e9e9e9"/>
<rect x="119.90" y="498.80" width="62.70" height="14.50" fill="#e9e9e9"/>
<rect x="191.20" y="498.80" width="66.40" height="14.50" fill="#e9e9e9"/>
<path d="M94.75,503.75 L108.25,503.75 Q109.75,503.75 109.75,505.25 C109.75,507.75 107.77,508.95 101.50,508.95 C95.23,508.95 93.25,507.75 93.25,505.25 Q93.25,503.75 94.75,503.75 Z" fill="#050505" opacity="1" filter="url(#b07)"/>
<rect x="121.00" y="503.75" width="12.00" height="4.60" rx="2.30" fill="#111" opacity="0.41" filter="url(#b07)"/>
<rect x="136.60" y="503.75" width="12.00" height="4.60" rx="2.30" fill="#111" opacity="0.18" filter="url(#b07)"/>
<rect x="153.00" y="503.75" width="12.00" height="4.60" rx="2.30" fill="#111" opacity="0.41" filter="url(#b07)"/>
<rect x="168.50" y="503.75" width="12.00" height="4.60" rx="2.30" fill="#111" opacity="0.32" filter="url(#b07)"/>
<rect x="194.00" y="503.75" width="12.00" height="4.60" rx="2.30" fill="#111" opacity="0.59" filter="url(#b07)"/>
<rect x="211.20" y="503.75" width="12.00" height="4.60" rx="2.30" fill="#111" opacity="0.41" filter="url(#b07)"/>
<rect x="227.60" y="503.75" width="12.00" height="4.60" rx="2.30" fill="#111" opacity="0.41" filter="url(#b07)"/>
<rect x="244.30" y="503.75" width="12.00" height="4.60" rx="2.30" fill="#111" opacity="0.14" filter="url(#b07)"/>
<rect x="91.90" y="499.40" width="19.20" height="13.30" fill="none" stroke="#111" stroke-width="1.2"/>
<rect x="120.50" y="499.40" width="61.50" height="13.30" fill="none" stroke="#111" stroke-width="1.2"/>
<rect x="191.80" y="499.40" width="65.20" height="13.30" fill="none" stroke="#111" stroke-width="1.2"/>
<text x="88.30" y="530.20" font-size="11.55" text-anchor="end">KAHRP WT</text>
<rect x="91.30" y="519.20" width="20.40" height="14.70" fill="#e9e9e9"/>
<rect x="119.90" y="519.20" width="62.70" height="14.70" fill="#e9e9e9"/>
<rect x="191.20" y="519.20" width="66.40" height="14.70" fill="#e9e9e9"/>
<path d="M94.75,523.50 L108.25,523.50 Q109.75,523.50 109.75,525.00 C109.75,529.00 107.77,530.20 101.50,530.20 C95.23,530.20 93.25,529.00 93.25,525.00 Q93.25,523.50 94.75,523.50 Z" fill="#050505" opacity="1" filter="url(#b07)"/>
<rect x="121.00" y="524.75" width="12" height="2" rx="1" fill="#222" opacity="0.17" filter="url(#b05)"/>
<path d="M138.10,524.25 L147.10,524.25 Q148.60,524.25 148.60,525.75 C148.60,529.25 147.16,530.45 142.60,530.45 C138.04,530.45 136.60,529.25 136.60,525.75 Q136.60,524.25 138.10,524.25 Z" fill="#050505" opacity="1" filter="url(#b07)"/>
<rect x="153.00" y="524.75" width="12" height="2" rx="1" fill="#222" opacity="0.14" filter="url(#b05)"/>
<path d="M170.00,524.25 L179.00,524.25 Q180.50,524.25 180.50,525.75 C180.50,529.25 179.06,530.45 174.50,530.45 C169.94,530.45 168.50,529.25 168.50,525.75 Q168.50,524.25 170.00,524.25 Z" fill="#050505" opacity="1" filter="url(#b07)"/>
<rect x="194.00" y="524.75" width="12" height="2" rx="1" fill="#222" opacity="0.24" filter="url(#b05)"/>
<path d="M212.70,524.25 L221.70,524.25 Q223.20,524.25 223.20,525.75 C223.20,529.25 221.76,530.45 217.20,530.45 C212.64,530.45 211.20,529.25 211.20,525.75 Q211.20,524.25 212.70,524.25 Z" fill="#050505" opacity="1" filter="url(#b07)"/>
<rect x="227.60" y="524.75" width="12" height="2" rx="1" fill="#222" opacity="0.10" filter="url(#b05)"/>
<path d="M245.80,524.25 L254.80,524.25 Q256.30,524.25 256.30,525.75 C256.30,529.25 254.86,530.45 250.30,530.45 C245.74,530.45 244.30,529.25 244.30,525.75 Q244.30,524.25 245.80,524.25 Z" fill="#050505" opacity="1" filter="url(#b07)"/>
<rect x="91.90" y="519.80" width="19.20" height="13.50" fill="none" stroke="#111" stroke-width="1.2"/>
<rect x="120.50" y="519.80" width="61.50" height="13.50" fill="none" stroke="#111" stroke-width="1.2"/>
<rect x="191.80" y="519.80" width="65.20" height="13.50" fill="none" stroke="#111" stroke-width="1.2"/>
<text x="88.30" y="551.20" font-size="11.55" text-anchor="end">KAHRP RLQ&gt;A</text>
<rect x="91.30" y="540.20" width="20.40" height="14.40" fill="#e9e9e9"/>
<rect x="119.90" y="540.20" width="62.70" height="14.40" fill="#e9e9e9"/>
<rect x="191.20" y="540.20" width="66.40" height="14.40" fill="#e9e9e9"/>
<path d="M94.75,544.35 L108.25,544.35 Q109.75,544.35 109.75,545.85 C109.75,549.85 107.77,551.05 101.50,551.05 C95.23,551.05 93.25,549.85 93.25,545.85 Q93.25,544.35 94.75,544.35 Z" fill="#050505" opacity="1" filter="url(#b07)"/>
<rect x="121.00" y="545.60" width="12" height="2" rx="1" fill="#222" opacity="0.21" filter="url(#b05)"/>
<path d="M137.10,545.10 L148.10,545.10 Q149.60,545.10 149.60,546.60 C149.60,550.10 147.92,551.30 142.60,551.30 C137.28,551.30 135.60,550.10 135.60,546.60 Q135.60,545.10 137.10,545.10 Z" fill="#050505" opacity="1" filter="url(#b07)"/>
<rect x="153.00" y="545.60" width="12" height="2" rx="1" fill="#222" opacity="0.17" filter="url(#b05)"/>
<path d="M169.00,545.10 L180.00,545.10 Q181.50,545.10 181.50,546.60 C181.50,550.10 179.82,551.30 174.50,551.30 C169.18,551.30 167.50,550.10 167.50,546.60 Q167.50,545.10 169.00,545.10 Z" fill="#050505" opacity="1" filter="url(#b07)"/>
<rect x="194.00" y="545.60" width="12" height="2" rx="1" fill="#222" opacity="0.28" filter="url(#b05)"/>
<path d="M210.70,545.10 L223.70,545.10 Q225.20,545.10 225.20,546.60 C225.20,550.10 223.28,551.30 217.20,551.30 C211.12,551.30 209.20,550.10 209.20,546.60 Q209.20,545.10 210.70,545.10 Z" fill="#050505" opacity="1" filter="url(#b07)"/>
<rect x="227.60" y="545.60" width="12" height="2" rx="1" fill="#222" opacity="0.21" filter="url(#b05)"/>
<path d="M244.80,545.10 L255.80,545.10 Q257.30,545.10 257.30,546.60 C257.30,550.10 255.62,551.30 250.30,551.30 C244.98,551.30 243.30,550.10 243.30,546.60 Q243.30,545.10 244.80,545.10 Z" fill="#050505" opacity="1" filter="url(#b07)"/>
<rect x="91.90" y="540.80" width="19.20" height="13.20" fill="none" stroke="#111" stroke-width="1.2"/>
<rect x="120.50" y="540.80" width="61.50" height="13.20" fill="none" stroke="#111" stroke-width="1.2"/>
<rect x="191.80" y="540.80" width="65.20" height="13.20" fill="none" stroke="#111" stroke-width="1.2"/>
<text x="88.30" y="569.40" font-size="11.55" text-anchor="end">GBP130<tspan font-size="8.7" dx="3" dy="3.7">66–83</tspan></text>
<rect x="91.30" y="561.00" width="20.40" height="14.40" fill="#e9e9e9"/>
<rect x="119.90" y="561.00" width="62.70" height="14.40" fill="#e9e9e9"/>
<rect x="191.20" y="561.00" width="66.40" height="14.40" fill="#e9e9e9"/>
<rect x="93.20" y="565.95" width="16.6" height="4.50" rx="2.25" fill="#050505" opacity="1.00" filter="url(#b05)"/>
<rect x="121.00" y="566.20" width="12.00" height="4.00" rx="2.00" fill="#111" opacity="0.27" filter="url(#b07)"/>
<rect x="136.60" y="566.20" width="12.00" height="4.00" rx="2.00" fill="#111" opacity="0.50" filter="url(#b07)"/>
<rect x="153.00" y="566.20" width="12.00" height="4.00" rx="2.00" fill="#111" opacity="0.18" filter="url(#b07)"/>
<rect x="168.50" y="566.20" width="12.00" height="4.00" rx="2.00" fill="#111" opacity="0.45" filter="url(#b07)"/>
<rect x="194.00" y="566.20" width="12.00" height="4.00" rx="2.00" fill="#111" opacity="0.07" filter="url(#b07)"/>
<rect x="211.20" y="566.20" width="12.00" height="4.00" rx="2.00" fill="#111" opacity="0.54" filter="url(#b07)"/>
<rect x="227.60" y="566.20" width="12.00" height="4.00" rx="2.00" fill="#111" opacity="0.23" filter="url(#b07)"/>
<rect x="244.30" y="566.20" width="12.00" height="4.00" rx="2.00" fill="#111" opacity="0.68" filter="url(#b07)"/>
<rect x="91.90" y="561.60" width="19.20" height="13.20" fill="none" stroke="#111" stroke-width="1.2"/>
<rect x="120.50" y="561.60" width="61.50" height="13.20" fill="none" stroke="#111" stroke-width="1.2"/>
<rect x="191.80" y="561.60" width="65.20" height="13.20" fill="none" stroke="#111" stroke-width="1.2"/>
<text x="88.30" y="589.60" font-size="11.55" text-anchor="end">GBP130<tspan font-size="8.7" dx="0.5" dy="3.4">66–88</tspan></text>
<rect x="91.30" y="581.20" width="20.40" height="14.20" fill="#e9e9e9"/>
<rect x="119.90" y="581.20" width="62.70" height="14.20" fill="#e9e9e9"/>
<rect x="191.20" y="581.20" width="66.40" height="14.20" fill="#e9e9e9"/>
<rect x="93.20" y="585.80" width="16.6" height="5.00" rx="2.50" fill="#050505" opacity="0.95" filter="url(#b05)"/>
<rect x="121.00" y="586.20" width="12.00" height="4.20" rx="2.10" fill="#111" opacity="0.27" filter="url(#b07)"/>
<rect x="136.60" y="586.20" width="12.00" height="4.20" rx="2.10" fill="#111" opacity="0.45" filter="url(#b07)"/>
<rect x="153.00" y="586.20" width="12.00" height="4.20" rx="2.10" fill="#111" opacity="0.18" filter="url(#b07)"/>
<rect x="168.50" y="586.20" width="12.00" height="4.20" rx="2.10" fill="#111" opacity="0.32" filter="url(#b07)"/>
<rect x="194.00" y="586.20" width="12.00" height="4.20" rx="2.10" fill="#111" opacity="0.09" filter="url(#b07)"/>
<rect x="210.70" y="585.60" width="13.00" height="5.40" rx="2.70" fill="#111" opacity="0.85" filter="url(#b07)"/>
<rect x="227.60" y="586.20" width="12.00" height="4.20" rx="2.10" fill="#111" opacity="0.23" filter="url(#b07)"/>
<rect x="244.30" y="586.20" width="12.00" height="4.20" rx="2.10" fill="#111" opacity="0.50" filter="url(#b07)"/>
<rect x="91.90" y="581.80" width="19.20" height="13.00" fill="none" stroke="#111" stroke-width="1.2"/>
<rect x="120.50" y="581.80" width="61.50" height="13.00" fill="none" stroke="#111" stroke-width="1.2"/>
<rect x="191.80" y="581.80" width="65.20" height="13.00" fill="none" stroke="#111" stroke-width="1.2"/>
<text x="88.30" y="610.10" font-size="11.55" text-anchor="end">GBP130<tspan font-size="8.7" dx="3" dy="3.7">84–196</tspan></text>
<rect x="91.30" y="601.70" width="20.40" height="14.40" fill="#e9e9e9"/>
<rect x="119.90" y="601.70" width="62.70" height="14.40" fill="#e9e9e9"/>
<rect x="191.20" y="601.70" width="66.40" height="14.40" fill="#e9e9e9"/>
<rect x="93.20" y="606.65" width="16.6" height="4.50" rx="2.25" fill="#050505" opacity="1.00" filter="url(#b05)"/>
<rect x="121.00" y="606.90" width="12.00" height="4.00" rx="2.00" fill="#111" opacity="0.14" filter="url(#b07)"/>
<rect x="136.60" y="606.90" width="12.00" height="4.00" rx="2.00" fill="#111" opacity="0.32" filter="url(#b07)"/>
<rect x="153.00" y="606.90" width="12.00" height="4.00" rx="2.00" fill="#111" opacity="0.03" filter="url(#b07)"/>
<rect x="168.50" y="606.90" width="12.00" height="4.00" rx="2.00" fill="#111" opacity="0.23" filter="url(#b07)"/>
<rect x="194.00" y="606.90" width="12.00" height="4.00" rx="2.00" fill="#111" opacity="0.09" filter="url(#b07)"/>
<rect x="211.20" y="606.90" width="12.00" height="4.00" rx="2.00" fill="#111" opacity="0.45" filter="url(#b07)"/>
<rect x="227.60" y="606.90" width="12.00" height="4.00" rx="2.00" fill="#111" opacity="0.03" filter="url(#b07)"/>
<rect x="244.30" y="606.90" width="12.00" height="4.00" rx="2.00" fill="#111" opacity="0.32" filter="url(#b07)"/>
<rect x="91.90" y="602.30" width="19.20" height="13.20" fill="none" stroke="#111" stroke-width="1.2"/>
<rect x="120.50" y="602.30" width="61.50" height="13.20" fill="none" stroke="#111" stroke-width="1.2"/>
<rect x="191.80" y="602.30" width="65.20" height="13.20" fill="none" stroke="#111" stroke-width="1.2"/>
<text x="88.30" y="630.40" font-size="11.55" text-anchor="end">GBP130<tspan font-size="8.7" dx="3" dy="3.7">89–196</tspan></text>
<rect x="91.30" y="622.00" width="20.40" height="14.30" fill="#e9e9e9"/>
<rect x="119.90" y="622.00" width="62.70" height="14.30" fill="#e9e9e9"/>
<rect x="191.20" y="622.00" width="66.40" height="14.30" fill="#e9e9e9"/>
<rect x="93.20" y="626.90" width="16.6" height="4.50" rx="2.25" fill="#050505" opacity="1.00" filter="url(#b05)"/>
<rect x="121.00" y="627.15" width="12.00" height="4.00" rx="2.00" fill="#111" opacity="0.07" filter="url(#b07)"/>
<rect x="136.60" y="627.15" width="12.00" height="4.00" rx="2.00" fill="#111" opacity="0.50" filter="url(#b07)"/>
<rect x="153.00" y="627.15" width="12.00" height="4.00" rx="2.00" fill="#111" opacity="0.02" filter="url(#b07)"/>
<rect x="168.50" y="627.15" width="12.00" height="4.00" rx="2.00" fill="#111" opacity="0.23" filter="url(#b07)"/>
<rect x="194.00" y="627.15" width="12.00" height="4.00" rx="2.00" fill="#111" opacity="0.14" filter="url(#b07)"/>
<rect x="211.20" y="627.15" width="12.00" height="4.00" rx="2.00" fill="#111" opacity="0.45" filter="url(#b07)"/>
<rect x="227.60" y="627.15" width="12.00" height="4.00" rx="2.00" fill="#111" opacity="0.11" filter="url(#b07)"/>
<rect x="244.30" y="627.15" width="12.00" height="4.00" rx="2.00" fill="#111" opacity="0.50" filter="url(#b07)"/>
<rect x="91.90" y="622.60" width="19.20" height="13.10" fill="none" stroke="#111" stroke-width="1.2"/>
<rect x="120.50" y="622.60" width="61.50" height="13.10" fill="none" stroke="#111" stroke-width="1.2"/>
<rect x="191.80" y="622.60" width="65.20" height="13.10" fill="none" stroke="#111" stroke-width="1.2"/>
<text x="88.30" y="654.20" font-size="11.55" text-anchor="end">PfEMP1 WT</text>
<rect x="91.30" y="643.20" width="20.40" height="14.20" fill="#e9e9e9"/>
<rect x="119.90" y="643.20" width="62.70" height="14.20" fill="#e9e9e9"/>
<rect x="191.20" y="643.20" width="66.40" height="14.20" fill="#e9e9e9"/>
<rect x="93.20" y="647.80" width="16.6" height="5.00" rx="2.50" fill="#050505" opacity="1.00" filter="url(#b05)"/>
<rect x="121.00" y="648.50" width="12" height="2" rx="1" fill="#222" opacity="0.17" filter="url(#b05)"/>
<path d="M138.10,648.50 L147.10,648.50 Q148.60,648.50 148.60,650.00 C148.60,652.50 147.16,653.70 142.60,653.70 C138.04,653.70 136.60,652.50 136.60,650.00 Q136.60,648.50 138.10,648.50 Z" fill="#050505" opacity="1" filter="url(#b07)"/>
<rect x="153.00" y="648.50" width="12" height="2" rx="1" fill="#222" opacity="0.14" filter="url(#b05)"/>
<path d="M170.00,648.50 L179.00,648.50 Q180.50,648.50 180.50,650.00 C180.50,652.50 179.06,653.70 174.50,653.70 C169.94,653.70 168.50,652.50 168.50,650.00 Q168.50,648.50 170.00,648.50 Z" fill="#050505" opacity="1" filter="url(#b07)"/>
<rect x="194.00" y="648.50" width="12" height="2" rx="1" fill="#222" opacity="0.17" filter="url(#b05)"/>
<path d="M212.70,648.50 L221.70,648.50 Q223.20,648.50 223.20,650.00 C223.20,652.50 221.76,653.70 217.20,653.70 C212.64,653.70 211.20,652.50 211.20,650.00 Q211.20,648.50 212.70,648.50 Z" fill="#050505" opacity="1" filter="url(#b07)"/>
<rect x="227.60" y="648.50" width="12" height="2" rx="1" fill="#222" opacity="0.17" filter="url(#b05)"/>
<path d="M245.80,648.50 L254.80,648.50 Q256.30,648.50 256.30,650.00 C256.30,652.50 254.86,653.70 250.30,653.70 C245.74,653.70 244.30,652.50 244.30,650.00 Q244.30,648.50 245.80,648.50 Z" fill="#050505" opacity="1" filter="url(#b07)"/>
<rect x="91.90" y="643.80" width="19.20" height="13.00" fill="none" stroke="#111" stroke-width="1.2"/>
<rect x="120.50" y="643.80" width="61.50" height="13.00" fill="none" stroke="#111" stroke-width="1.2"/>
<rect x="191.80" y="643.80" width="65.20" height="13.00" fill="none" stroke="#111" stroke-width="1.2"/>
<text x="379.50" y="381.00" font-size="11.55">Bound</text>
<text x="423.70" y="381.00" font-size="11.55">Unbound (10%)</text>
<line x1="389.80" y1="386.00" x2="408.40" y2="386.00" stroke="#111" stroke-width="1.1"/>
<line x1="424.20" y1="386.00" x2="442.80" y2="386.00" stroke="#111" stroke-width="1.1"/>
<text x="302.60" y="401.50" font-size="11.55">PI3P on beads</text>
<text x="390.50" y="401.50" font-size="11.55" text-anchor="middle">+</text>
<text x="411.00" y="401.50" font-size="11.55" text-anchor="middle">−</text>
<text x="424.70" y="401.50" font-size="11.55" text-anchor="middle">+</text>
<text x="439.30" y="401.50" font-size="11.55" text-anchor="middle">−</text>
<rect x="379.2" y="409.7" width="70.7" height="28.6" fill="#ebebeb"/>
<rect x="381.05" y="422.30" width="16.5" height="4.0" rx="1.7" fill="#111" opacity="1.0" filter="url(#b07)"/>
<rect x="402.90" y="422.60" width="13" height="3.4" rx="1.7" fill="#111" opacity="0.4" filter="url(#b07)"/>
<rect x="420.55" y="422.70" width="9.5" height="3.2" rx="1.7" fill="#111" opacity="0.33" filter="url(#b07)"/>
<rect x="435.05" y="422.70" width="9.5" height="3.2" rx="1.7" fill="#111" opacity="0.33" filter="url(#b07)"/>
<rect x="379.80" y="410.30" width="69.50" height="27.40" fill="none" stroke="#111" stroke-width="1.2"/>
<text x="320.70" y="427.60" font-size="11.55">p40PX</text>
<text x="371.80" y="438.40" font-size="11.55" text-anchor="end">37</text>
<line x1="376.40" y1="434.60" x2="379.50" y2="434.60" stroke="#111" stroke-width="1.1"/>
<text x="452.80" y="426.00" font-size="11.55">α-GST</text>
<line x1="380.80" y1="454.00" x2="380.80" y2="509.50" stroke="#333" stroke-width="1.3"/>
<line x1="380.00" y1="508.90" x2="421.90" y2="508.90" stroke="#333" stroke-width="1.3"/>
<line x1="379.00" y1="509.00" x2="381.00" y2="509.00" stroke="#111" stroke-width="1.1"/>
<text x="374.40" y="512.90" font-size="11.55" text-anchor="end">0</text>
<line x1="379.00" y1="493.50" x2="381.00" y2="493.50" stroke="#111" stroke-width="1.1"/>
<text x="374.40" y="497.40" font-size="11.55" text-anchor="end">20</text>
<line x1="379.00" y1="478.00" x2="381.00" y2="478.00" stroke="#111" stroke-width="1.1"/>
<text x="374.40" y="481.90" font-size="11.55" text-anchor="end">40</text>
<line x1="379.00" y1="462.50" x2="381.00" y2="462.50" stroke="#111" stroke-width="1.1"/>
<text x="374.40" y="466.40" font-size="11.55" text-anchor="end">60</text>
<rect x="385.3" y="455.52" width="14.9" height="53.48" fill="#000"/>
<rect x="404.90" y="494.77" width="13.90" height="14.23" fill="#dcdcdc" stroke="#111" stroke-width="1.0"/>
<rect x="426.40" y="458.90" width="6.20" height="5.10" fill="#000" stroke="#000" stroke-width="0.8"/>
<text x="438.60" y="464.30" font-size="11.55">+ PI(3)P</text>
<rect x="426.40" y="475.20" width="6.20" height="5.40" fill="#dcdcdc" stroke="#111" stroke-width="0.8"/>
<text x="438.60" y="480.60" font-size="11.55">– PI(3)P</text>
<text x="336.50" y="486.20" font-size="11.55" text-anchor="middle" transform="rotate(-90 336.5 486.2)">% Bound</text>
<text x="350.40" y="486.00" font-size="11.55" text-anchor="middle" transform="rotate(-90 350.4 486.0)">p40PX</text>
<text x="382.80" y="534.20" font-size="11.55">Bound</text>
<text x="434.20" y="534.20" font-size="11.55">Unbound (10%)</text>
<line x1="373.90" y1="539.50" x2="423.80" y2="539.50" stroke="#111" stroke-width="1.1"/>
<line x1="433.60" y1="539.50" x2="483.80" y2="539.50" stroke="#111" stroke-width="1.1"/>
<text x="286.50" y="551.00" font-size="11.55">PI3P on beads</text>
<text x="376.00" y="551.80" font-size="11.55" text-anchor="middle">+</text>
<text x="391.30" y="551.80" font-size="11.55" text-anchor="middle">+</text>
<text x="406.40" y="551.80" font-size="11.55" text-anchor="middle">−</text>
<text x="421.80" y="551.80" font-size="11.55" text-anchor="middle">−</text>
<text x="437.40" y="551.80" font-size="11.55" text-anchor="middle">+</text>
<text x="452.20" y="551.80" font-size="11.55" text-anchor="middle">+</text>
<text x="467.00" y="551.80" font-size="11.55" text-anchor="middle">−</text>
<text x="482.30" y="551.80" font-size="11.55" text-anchor="middle">−</text>
<text x="376.20" y="566.00" font-size="10.4" text-anchor="middle" textLength="14.0" lengthAdjust="spacingAndGlyphs">WT</text>
<text x="391.40" y="566.00" font-size="10.4" text-anchor="middle" textLength="7.9" lengthAdjust="spacingAndGlyphs">M</text>
<text x="406.40" y="566.00" font-size="10.4" text-anchor="middle" textLength="14.0" lengthAdjust="spacingAndGlyphs">WT</text>
<text x="421.70" y="566.00" font-size="10.4" text-anchor="middle" textLength="7.9" lengthAdjust="spacingAndGlyphs">M</text>
<text x="436.70" y="566.00" font-size="10.4" text-anchor="middle" textLength="14.0" lengthAdjust="spacingAndGlyphs">WT</text>
<text x="452.20" y="566.00" font-size="10.4" text-anchor="middle" textLength="7.9" lengthAdjust="spacingAndGlyphs">M</text>
<text x="467.40" y="566.00" font-size="10.4" text-anchor="middle" textLength="14.0" lengthAdjust="spacingAndGlyphs">WT</text>
<text x="482.50" y="566.00" font-size="10.4" text-anchor="middle" textLength="7.9" lengthAdjust="spacingAndGlyphs">M</text>
<rect x="366.5" y="569.6" width="123.8" height="28.10" fill="#eeeeee"/>
<rect x="431.15" y="582.50" width="12.5" height="3.8" rx="1.90" fill="#0a0a0a" opacity="0.95" filter="url(#b07)"/>
<rect x="446.45" y="582.90" width="11.5" height="3.0" rx="1.50" fill="#0a0a0a" opacity="0.85" filter="url(#b07)"/>
<rect x="460.35" y="582.60" width="12.5" height="3.6" rx="1.80" fill="#0a0a0a" opacity="0.9" filter="url(#b07)"/>
<rect x="475.40" y="582.60" width="13" height="3.6" rx="1.80" fill="#0a0a0a" opacity="0.9" filter="url(#b07)"/>
<rect x="367.10" y="570.20" width="122.60" height="26.90" fill="none" stroke="#111" stroke-width="1.2"/>
<text x="304.20" y="588.80" font-size="11.55">HRPII</text>
<text x="359.70" y="585.90" font-size="11.55" text-anchor="end">37</text>
<line x1="361.50" y1="582.30" x2="366.50" y2="582.30" stroke="#111" stroke-width="1.1"/>
<rect x="366.5" y="604.2" width="123.8" height="28.00" fill="#eeeeee"/>
<rect x="430.65" y="614.70" width="13.5" height="7.4" rx="3.50" fill="#0a0a0a" opacity="1" filter="url(#b07)"/>
<rect x="445.45" y="614.70" width="13.5" height="7.4" rx="3.50" fill="#0a0a0a" opacity="1" filter="url(#b07)"/>
<rect x="460.35" y="615.40" width="12.5" height="6.0" rx="3.00" fill="#0a0a0a" opacity="0.95" filter="url(#b07)"/>
<rect x="474.90" y="614.20" width="14" height="8.4" rx="3.50" fill="#0a0a0a" opacity="1" filter="url(#b07)"/>
<rect x="367.10" y="604.80" width="122.60" height="26.80" fill="none" stroke="#111" stroke-width="1.2"/>
<text x="294.80" y="622.80" font-size="11.55">KAHRP</text>
<text x="359.70" y="615.40" font-size="11.55" text-anchor="end">37</text>
<line x1="361.50" y1="611.90" x2="366.50" y2="611.90" stroke="#111" stroke-width="1.1"/>
<rect x="366.5" y="639.0" width="123.8" height="28.10" fill="#eeeeee"/>
<rect x="436.00" y="651.70" width="8" height="3.0" rx="1.50" fill="#0a0a0a" opacity="0.9" filter="url(#b07)"/>
<rect x="446.70" y="651.00" width="11" height="4.4" rx="2.20" fill="#0a0a0a" opacity="1" filter="url(#b07)"/>
<rect x="461.10" y="651.00" width="11" height="4.4" rx="2.20" fill="#0a0a0a" opacity="1" filter="url(#b07)"/>
<rect x="476.40" y="650.70" width="11" height="5.0" rx="2.50" fill="#0a0a0a" opacity="1" filter="url(#b07)"/>
<rect x="367.10" y="639.60" width="122.60" height="26.90" fill="none" stroke="#111" stroke-width="1.2"/>
<text x="291.20" y="656.80" font-size="11.55">GBP130</text>
<text x="359.70" y="661.80" font-size="11.55" text-anchor="end">50</text>
<line x1="361.50" y1="658.20" x2="366.50" y2="658.20" stroke="#111" stroke-width="1.1"/>
<rect x="366.5" y="673.6" width="123.8" height="28.10" fill="#eeeeee"/>
<rect x="429.90" y="686.40" width="13" height="4.6" rx="2.30" fill="#0a0a0a" opacity="0.85" filter="url(#b07)"/>
<rect x="446.20" y="687.20" width="12" height="3.0" rx="1.50" fill="#0a0a0a" opacity="0.95" filter="url(#b07)"/>
<rect x="461.00" y="685.80" width="10" height="5.8" rx="2.90" fill="#0a0a0a" opacity="1" filter="url(#b07)"/>
<rect x="476.00" y="687.20" width="12" height="3.0" rx="1.50" fill="#0a0a0a" opacity="0.95" filter="url(#b07)"/>
<rect x="367.10" y="674.20" width="122.60" height="26.90" fill="none" stroke="#111" stroke-width="1.2"/>
<text x="292.40" y="690.70" font-size="11.55">PfEMP1</text>
<text x="359.70" y="690.70" font-size="11.55" text-anchor="end">37</text>
<line x1="361.50" y1="687.20" x2="366.50" y2="687.20" stroke="#111" stroke-width="1.1"/>
<text x="427.70" y="715.80" font-size="11.55" text-anchor="middle">α-GFP</text>
<rect x="565.70" y="410.60" width="182.20" height="181.30" fill="none" stroke="#111" stroke-width="1.1"/>
<text x="656.80" y="379.70" font-size="11.55" text-anchor="middle">Time (s)</text>
<line x1="565.70" y1="408.10" x2="565.70" y2="413.60" stroke="#111" stroke-width="1.1"/>
<text x="565.70" y="401.30" font-size="11.55" text-anchor="middle">0</text>
<line x1="604.20" y1="408.10" x2="604.20" y2="413.60" stroke="#111" stroke-width="1.1"/>
<text x="604.20" y="401.30" font-size="11.55" text-anchor="middle">500</text>
<line x1="642.70" y1="408.10" x2="642.70" y2="413.60" stroke="#111" stroke-width="1.1"/>
<text x="642.70" y="401.30" font-size="11.55" text-anchor="middle">1,000</text>
<line x1="681.20" y1="408.10" x2="681.20" y2="413.60" stroke="#111" stroke-width="1.1"/>
<text x="681.20" y="401.30" font-size="11.55" text-anchor="middle">1,500</text>
<line x1="719.70" y1="408.10" x2="719.70" y2="413.60" stroke="#111" stroke-width="1.1"/>
<text x="719.70" y="401.30" font-size="11.55" text-anchor="middle">2,000</text>
<line x1="563.00" y1="428.00" x2="568.60" y2="428.00" stroke="#111" stroke-width="1.1"/>
<text x="558.00" y="431.90" font-size="11.55" text-anchor="end">4.0</text>
<line x1="563.00" y1="471.00" x2="568.60" y2="471.00" stroke="#111" stroke-width="1.1"/>
<text x="558.00" y="474.90" font-size="11.55" text-anchor="end">3.5</text>
<line x1="563.00" y1="514.00" x2="568.60" y2="514.00" stroke="#111" stroke-width="1.1"/>
<text x="558.00" y="517.90" font-size="11.55" text-anchor="end">3.0</text>
<line x1="563.00" y1="557.00" x2="568.60" y2="557.00" stroke="#111" stroke-width="1.1"/>
<text x="558.00" y="560.90" font-size="11.55" text-anchor="end">2.5</text>
<text x="530.40" y="501.50" font-size="11.55" text-anchor="middle" transform="rotate(-90 530.4 501.5)">µcal</text>
<clipPath id="fc1"><rect x="566" y="411.2" width="181.4" height="180.2"/></clipPath>
<g clip-path="url(#fc1)">
<path d="M565.90,428.00 L567.90,427.86 L569.90,427.72 L571.90,428.12 L573.90,427.66 L575.90,428.03 L577.90,427.89 L580.50,428.00 L580.98,431.50 L581.41,429.65 L581.85,428.78 L582.28,428.37 L582.71,428.17 L583.15,428.08 L583.58,428.04 L585.58,427.65 L587.58,428.01 L589.90,428.00 L590.38,430.50 L590.81,429.18 L591.25,428.56 L591.68,428.26 L592.11,428.12 L592.55,428.06 L592.98,428.03 L594.98,427.63 L596.98,427.95 L599.40,428.00 L599.88,430.50 L600.31,429.18 L600.75,428.56 L601.18,428.26 L601.61,428.12 L602.05,428.06 L602.48,428.03 L604.48,427.66 L606.48,427.67 L608.70,428.00 L609.18,430.00 L609.61,428.94 L610.05,428.45 L610.48,428.21 L610.91,428.10 L611.35,428.05 L611.78,428.02 L613.78,427.94 L615.78,428.26 L618.00,428.00 L618.48,431.00 L618.91,429.42 L619.35,428.67 L619.78,428.32 L620.21,428.15 L620.65,428.07 L621.08,428.03 L623.08,427.70 L625.08,427.78 L627.20,428.00 L627.68,430.50 L628.11,429.18 L628.55,428.56 L628.98,428.26 L629.41,428.12 L629.85,428.06 L630.28,428.03 L632.28,428.10 L634.28,428.36 L636.60,428.00 L637.08,432.00 L637.51,429.89 L637.95,428.89 L638.38,428.42 L638.81,428.20 L639.25,428.09 L639.68,428.04 L641.68,428.06 L643.68,427.92 L645.90,428.00 L646.38,429.50 L646.81,428.71 L647.25,428.33 L647.68,428.16 L648.11,428.07 L648.55,428.04 L648.98,428.02 L650.98,428.38 L652.98,427.64 L655.20,428.00 L655.68,430.00 L656.11,428.94 L656.55,428.45 L656.98,428.21 L657.41,428.10 L657.85,428.05 L658.28,428.02 L660.28,428.29 L662.28,427.83 L664.50,428.00 L664.98,431.00 L665.41,429.42 L665.85,428.67 L666.28,428.32 L666.71,428.15 L667.15,428.07 L667.58,428.03 L669.58,427.72 L671.58,427.69 L673.80,428.00 L674.28,430.00 L674.71,428.94 L675.15,428.45 L675.58,428.21 L676.01,428.10 L676.45,428.05 L676.88,428.02 L678.88,427.85 L680.88,428.25 L683.10,428.00 L683.58,430.50 L684.01,429.18 L684.45,428.56 L684.88,428.26 L685.31,428.12 L685.75,428.06 L686.18,428.03 L688.18,427.74 L690.18,428.07 L692.40,428.00 L692.88,430.00 L693.31,428.94 L693.75,428.45 L694.18,428.21 L694.61,428.10 L695.05,428.05 L695.48,428.02 L697.48,428.11 L699.48,427.90 L701.70,428.00 L702.18,430.00 L702.61,428.94 L703.05,428.45 L703.48,428.21 L703.91,428.10 L704.35,428.05 L704.78,428.02 L706.78,428.04 L708.78,427.65 L711.00,428.00 L711.48,430.00 L711.91,428.94 L712.35,428.45 L712.78,428.21 L713.21,428.10 L713.65,428.05 L714.08,428.02 L716.08,427.65 L718.08,427.76 L720.30,428.00 L720.78,430.00 L721.21,428.94 L721.65,428.45 L722.08,428.21 L722.51,428.10 L722.95,428.05 L723.38,428.02 L725.38,428.14 L727.38,427.94 L729.60,428.00 L730.08,430.00 L730.51,428.94 L730.95,428.45 L731.38,428.21 L731.81,428.10 L732.25,428.05 L732.68,428.02 L734.68,427.85 L736.68,428.07 L738.70,428.00 L739.18,430.00 L739.61,428.94 L740.05,428.45 L740.48,428.21 L740.91,428.10 L741.35,428.05 L741.78,428.02 L747.50,428.00" fill="none" stroke="#1f3fd0" stroke-width="1.1" stroke-linejoin="round"/>
<path d="M565.90,445.20 L567.90,445.15 L569.90,445.00 L571.90,445.49 L573.90,445.40 L575.90,444.94 L577.90,445.27 L580.50,445.20 L580.98,448.20 L581.41,446.62 L581.85,445.87 L582.28,445.52 L582.71,445.35 L583.15,445.27 L583.58,445.23 L585.58,445.23 L587.58,445.58 L589.90,445.20 L590.38,447.20 L590.81,446.14 L591.25,445.65 L591.68,445.41 L592.11,445.30 L592.55,445.25 L592.98,445.22 L594.98,445.43 L596.98,444.99 L599.40,445.20 L599.88,447.70 L600.31,446.38 L600.75,445.76 L601.18,445.46 L601.61,445.32 L602.05,445.26 L602.48,445.23 L604.48,445.68 L606.48,444.82 L608.70,445.20 L609.18,447.20 L609.61,446.14 L610.05,445.65 L610.48,445.41 L610.91,445.30 L611.35,445.25 L611.78,445.22 L613.78,445.12 L615.78,445.46 L618.00,445.20 L618.48,447.20 L618.91,446.14 L619.35,445.65 L619.78,445.41 L620.21,445.30 L620.65,445.25 L621.08,445.22 L623.08,444.85 L625.08,445.19 L627.20,445.20 L627.68,447.70 L628.11,446.38 L628.55,445.76 L628.98,445.46 L629.41,445.32 L629.85,445.26 L630.28,445.23 L632.28,444.74 L634.28,445.37 L636.60,445.20 L637.08,447.20 L637.51,446.14 L637.95,445.65 L638.38,445.41 L638.81,445.30 L639.25,445.25 L639.68,445.22 L641.68,445.46 L643.68,445.27 L645.90,445.20 L646.38,447.20 L646.81,446.14 L647.25,445.65 L647.68,445.41 L648.11,445.30 L648.55,445.25 L648.98,445.22 L650.98,445.58 L652.98,445.01 L655.20,445.20 L655.68,447.70 L656.11,446.38 L656.55,445.76 L656.98,445.46 L657.41,445.32 L657.85,445.26 L658.28,445.23 L660.28,445.40 L662.28,445.29 L664.50,445.20 L664.98,447.20 L665.41,446.14 L665.85,445.65 L666.28,445.41 L666.71,445.30 L667.15,445.25 L667.58,445.22 L669.58,445.28 L671.58,445.16 L673.80,445.20 L674.28,447.20 L674.71,446.14 L675.15,445.65 L675.58,445.41 L676.01,445.30 L676.45,445.25 L676.88,445.22 L678.88,445.54 L680.88,445.64 L683.10,445.20 L683.58,447.70 L684.01,446.38 L684.45,445.76 L684.88,445.46 L685.31,445.32 L685.75,445.26 L686.18,445.23 L688.18,445.17 L690.18,445.36 L692.40,445.20 L692.88,447.20 L693.31,446.14 L693.75,445.65 L694.18,445.41 L694.61,445.30 L695.05,445.25 L695.48,445.22 L697.48,444.76 L699.48,445.40 L701.70,445.20 L702.18,447.20 L702.61,446.14 L703.05,445.65 L703.48,445.41 L703.91,445.30 L704.35,445.25 L704.78,445.22 L706.78,445.35 L708.78,445.69 L711.00,445.20 L711.48,447.20 L711.91,446.14 L712.35,445.65 L712.78,445.41 L713.21,445.30 L713.65,445.25 L714.08,445.22 L716.08,445.52 L718.08,444.98 L720.30,445.20 L720.78,447.20 L721.21,446.14 L721.65,445.65 L722.08,445.41 L722.51,445.30 L722.95,445.25 L723.38,445.22 L725.38,445.09 L727.38,445.37 L729.60,445.20 L730.08,447.20 L730.51,446.14 L730.95,445.65 L731.38,445.41 L731.81,445.30 L732.25,445.25 L732.68,445.22 L734.68,444.72 L736.68,445.16 L738.70,445.20 L739.18,447.20 L739.61,446.14 L740.05,445.65 L740.48,445.41 L740.91,445.30 L741.35,445.25 L741.78,445.22 L747.50,445.20" fill="none" stroke="#2a8c34" stroke-width="1.1" stroke-linejoin="round"/>
<path d="M565.90,462.40 L567.90,462.20 L569.90,462.17 L571.90,462.14 L573.90,462.56 L575.90,462.18 L577.90,462.25 L580.50,462.40 L580.98,464.40 L581.41,463.34 L581.85,462.85 L582.28,462.61 L582.71,462.50 L583.15,462.45 L583.58,462.42 L585.58,462.33 L587.58,462.62 L589.90,462.40 L590.38,463.90 L590.81,463.11 L591.25,462.73 L591.68,462.56 L592.11,462.47 L592.55,462.44 L592.98,462.42 L594.98,462.15 L596.98,462.37 L599.40,462.40 L599.88,463.90 L600.31,463.11 L600.75,462.73 L601.18,462.56 L601.61,462.47 L602.05,462.44 L602.48,462.42 L604.48,462.43 L606.48,462.63 L608.70,462.40 L609.18,463.90 L609.61,463.11 L610.05,462.73 L610.48,462.56 L610.91,462.47 L611.35,462.44 L611.78,462.42 L613.78,462.59 L615.78,462.62 L618.00,462.40 L618.48,463.90 L618.91,463.11 L619.35,462.73 L619.78,462.56 L620.21,462.47 L620.65,462.44 L621.08,462.42 L623.08,462.27 L625.08,462.35 L627.20,462.40 L627.68,463.90 L628.11,463.11 L628.55,462.73 L628.98,462.56 L629.41,462.47 L629.85,462.44 L630.28,462.42 L632.28,462.32 L634.28,462.63 L636.60,462.40 L637.08,463.90 L637.51,463.11 L637.95,462.73 L638.38,462.56 L638.81,462.47 L639.25,462.44 L639.68,462.42 L641.68,462.67 L643.68,462.19 L645.90,462.40 L646.38,463.90 L646.81,463.11 L647.25,462.73 L647.68,462.56 L648.11,462.47 L648.55,462.44 L648.98,462.42 L650.98,462.21 L652.98,462.24 L655.20,462.40 L655.68,463.90 L656.11,463.11 L656.55,462.73 L656.98,462.56 L657.41,462.47 L657.85,462.44 L658.28,462.42 L660.28,462.24 L662.28,462.39 L664.50,462.40 L664.98,463.90 L665.41,463.11 L665.85,462.73 L666.28,462.56 L666.71,462.47 L667.15,462.44 L667.58,462.42 L669.58,462.45 L671.58,462.26 L673.80,462.40 L674.28,463.90 L674.71,463.11 L675.15,462.73 L675.58,462.56 L676.01,462.47 L676.45,462.44 L676.88,462.42 L678.88,462.10 L680.88,462.35 L683.10,462.40 L683.58,463.90 L684.01,463.11 L684.45,462.73 L684.88,462.56 L685.31,462.47 L685.75,462.44 L686.18,462.42 L688.18,462.32 L690.18,462.44 L692.40,462.40 L692.88,463.90 L693.31,463.11 L693.75,462.73 L694.18,462.56 L694.61,462.47 L695.05,462.44 L695.48,462.42 L697.48,462.67 L699.48,462.51 L701.70,462.40 L702.18,463.90 L702.61,463.11 L703.05,462.73 L703.48,462.56 L703.91,462.47 L704.35,462.44 L704.78,462.42 L706.78,462.41 L708.78,462.47 L711.00,462.40 L711.48,463.90 L711.91,463.11 L712.35,462.73 L712.78,462.56 L713.21,462.47 L713.65,462.44 L714.08,462.42 L716.08,462.51 L718.08,462.13 L720.30,462.40 L720.78,463.90 L721.21,463.11 L721.65,462.73 L722.08,462.56 L722.51,462.47 L722.95,462.44 L723.38,462.42 L725.38,462.64 L727.38,462.57 L729.60,462.40 L730.08,463.90 L730.51,463.11 L730.95,462.73 L731.38,462.56 L731.81,462.47 L732.25,462.44 L732.68,462.42 L734.68,462.62 L736.68,462.58 L738.70,462.40 L739.18,463.90 L739.61,463.11 L740.05,462.73 L740.48,462.56 L740.91,462.47 L741.35,462.44 L741.78,462.42 L747.50,462.40" fill="none" stroke="#e3262a" stroke-width="1.1" stroke-linejoin="round"/>
<path d="M565.90,479.60 L567.90,479.56 L569.90,479.56 L571.90,479.44 L573.90,479.65 L575.90,479.42 L577.90,479.43 L580.50,479.60 L580.98,480.60 L581.41,480.07 L581.85,479.82 L582.28,479.71 L582.71,479.65 L583.15,479.62 L583.58,479.61 L585.58,479.48 L587.58,479.46 L589.90,479.60 L590.38,480.60 L590.81,480.07 L591.25,479.82 L591.68,479.71 L592.11,479.65 L592.55,479.62 L592.98,479.61 L594.98,479.54 L596.98,479.42 L599.40,479.60 L599.88,480.60 L600.31,480.07 L600.75,479.82 L601.18,479.71 L601.61,479.65 L602.05,479.62 L602.48,479.61 L604.48,479.40 L606.48,479.46 L608.70,479.60 L609.18,480.60 L609.61,480.07 L610.05,479.82 L610.48,479.71 L610.91,479.65 L611.35,479.62 L611.78,479.61 L613.78,479.44 L615.78,479.55 L618.00,479.60 L618.48,480.60 L618.91,480.07 L619.35,479.82 L619.78,479.71 L620.21,479.65 L620.65,479.62 L621.08,479.61 L623.08,479.41 L625.08,479.75 L627.20,479.60 L627.68,480.60 L628.11,480.07 L628.55,479.82 L628.98,479.71 L629.41,479.65 L629.85,479.62 L630.28,479.61 L632.28,479.65 L634.28,479.46 L636.60,479.60 L637.08,480.60 L637.51,480.07 L637.95,479.82 L638.38,479.71 L638.81,479.65 L639.25,479.62 L639.68,479.61 L641.68,479.50 L643.68,479.54 L645.90,479.60 L646.38,480.60 L646.81,480.07 L647.25,479.82 L647.68,479.71 L648.11,479.65 L648.55,479.62 L648.98,479.61 L650.98,479.55 L652.98,479.45 L655.20,479.60 L655.68,480.60 L656.11,480.07 L656.55,479.82 L656.98,479.71 L657.41,479.65 L657.85,479.62 L658.28,479.61 L660.28,479.74 L662.28,479.80 L664.50,479.60 L664.98,480.60 L665.41,480.07 L665.85,479.82 L666.28,479.71 L666.71,479.65 L667.15,479.62 L667.58,479.61 L669.58,479.59 L671.58,479.59 L673.80,479.60 L674.28,480.60 L674.71,480.07 L675.15,479.82 L675.58,479.71 L676.01,479.65 L676.45,479.62 L676.88,479.61 L678.88,479.43 L680.88,479.44 L683.10,479.60 L683.58,480.60 L684.01,480.07 L684.45,479.82 L684.88,479.71 L685.31,479.65 L685.75,479.62 L686.18,479.61 L688.18,479.54 L690.18,479.51 L692.40,479.60 L692.88,480.60 L693.31,480.07 L693.75,479.82 L694.18,479.71 L694.61,479.65 L695.05,479.62 L695.48,479.61 L697.48,479.73 L699.48,479.46 L701.70,479.60 L702.18,480.60 L702.61,480.07 L703.05,479.82 L703.48,479.71 L703.91,479.65 L704.35,479.62 L704.78,479.61 L706.78,479.41 L708.78,479.78 L711.00,479.60 L711.48,480.60 L711.91,480.07 L712.35,479.82 L712.78,479.71 L713.21,479.65 L713.65,479.62 L714.08,479.61 L716.08,479.61 L718.08,479.46 L720.30,479.60 L720.78,480.60 L721.21,480.07 L721.65,479.82 L722.08,479.71 L722.51,479.65 L722.95,479.62 L723.38,479.61 L725.38,479.62 L727.38,479.41 L729.60,479.60 L730.08,480.60 L730.51,480.07 L730.95,479.82 L731.38,479.71 L731.81,479.65 L732.25,479.62 L732.68,479.61 L734.68,479.61 L736.68,479.79 L738.70,479.60 L739.18,480.60 L739.61,480.07 L740.05,479.82 L740.48,479.71 L740.91,479.65 L741.35,479.62 L741.78,479.61 L747.50,479.60" fill="none" stroke="#9a9a9a" stroke-width="1.1" stroke-linejoin="round"/>
<path d="M565.90,496.80 L567.90,497.09 L569.90,496.96 L571.90,496.61 L573.90,496.69 L575.90,496.53 L577.90,497.02 L580.50,496.80 L580.98,500.80 L581.41,498.69 L581.85,497.69 L582.28,497.22 L582.71,497.00 L583.15,496.89 L583.58,496.84 L585.58,496.83 L587.58,497.02 L589.90,496.80 L590.38,500.80 L590.81,498.69 L591.25,497.69 L591.68,497.22 L592.11,497.00 L592.55,496.89 L592.98,496.84 L594.98,496.66 L596.98,496.58 L599.40,496.80 L599.88,500.30 L600.31,498.45 L600.75,497.58 L601.18,497.17 L601.61,496.97 L602.05,496.88 L602.48,496.84 L604.48,497.05 L606.48,497.19 L608.70,496.80 L609.18,500.30 L609.61,498.45 L610.05,497.58 L610.48,497.17 L610.91,496.97 L611.35,496.88 L611.78,496.84 L613.78,497.08 L615.78,497.04 L618.00,496.80 L618.48,500.30 L618.91,498.45 L619.35,497.58 L619.78,497.17 L620.21,496.97 L620.65,496.88 L621.08,496.84 L623.08,497.05 L625.08,496.99 L627.20,496.80 L627.68,500.30 L628.11,498.45 L628.55,497.58 L628.98,497.17 L629.41,496.97 L629.85,496.88 L630.28,496.84 L632.28,496.58 L634.28,496.81 L636.60,496.80 L637.08,500.30 L637.51,498.45 L637.95,497.58 L638.38,497.17 L638.81,496.97 L639.25,496.88 L639.68,496.84 L641.68,496.68 L643.68,496.42 L645.90,496.80 L646.38,500.30 L646.81,498.45 L647.25,497.58 L647.68,497.17 L648.11,496.97 L648.55,496.88 L648.98,496.84 L650.98,496.42 L652.98,496.62 L655.20,496.80 L655.68,500.30 L656.11,498.45 L656.55,497.58 L656.98,497.17 L657.41,496.97 L657.85,496.88 L658.28,496.84 L660.28,496.61 L662.28,496.95 L664.50,496.80 L664.98,500.30 L665.41,498.45 L665.85,497.58 L666.28,497.17 L666.71,496.97 L667.15,496.88 L667.58,496.84 L669.58,497.17 L671.58,496.76 L673.80,496.80 L674.28,500.30 L674.71,498.45 L675.15,497.58 L675.58,497.17 L676.01,496.97 L676.45,496.88 L676.88,496.84 L678.88,497.15 L680.88,497.19 L683.10,496.80 L683.58,500.30 L684.01,498.45 L684.45,497.58 L684.88,497.17 L685.31,496.97 L685.75,496.88 L686.18,496.84 L688.18,497.16 L690.18,496.69 L692.40,496.80 L692.88,500.30 L693.31,498.45 L693.75,497.58 L694.18,497.17 L694.61,496.97 L695.05,496.88 L695.48,496.84 L697.48,496.58 L699.48,496.58 L701.70,496.80 L702.18,500.30 L702.61,498.45 L703.05,497.58 L703.48,497.17 L703.91,496.97 L704.35,496.88 L704.78,496.84 L706.78,496.56 L708.78,496.56 L711.00,496.80 L711.48,500.30 L711.91,498.45 L712.35,497.58 L712.78,497.17 L713.21,496.97 L713.65,496.88 L714.08,496.84 L716.08,496.90 L718.08,497.12 L720.30,496.80 L720.78,500.30 L721.21,498.45 L721.65,497.58 L722.08,497.17 L722.51,496.97 L722.95,496.88 L723.38,496.84 L725.38,497.07 L727.38,496.78 L729.60,496.80 L730.08,500.30 L730.51,498.45 L730.95,497.58 L731.38,497.17 L731.81,496.97 L732.25,496.88 L732.68,496.84 L734.68,496.92 L736.68,497.04 L738.70,496.80 L739.18,500.30 L739.61,498.45 L740.05,497.58 L740.48,497.17 L740.91,496.97 L741.35,496.88 L741.78,496.84 L747.50,496.80" fill="none" stroke="#f07f22" stroke-width="1.1" stroke-linejoin="round"/>
<path d="M565.90,514.00 L567.90,513.50 L569.90,514.19 L572.00,514.00 L572.30,512.50 L572.84,520.00 L573.67,517.08 L574.51,515.58 L575.34,514.81 L576.17,514.42 L577.01,514.21 L577.84,514.11 L580.50,514.00 L580.80,512.50 L581.34,590.90 L582.17,553.48 L583.01,534.27 L583.84,524.41 L584.67,519.34 L585.51,516.74 L586.34,515.41 L588.34,514.49 L589.90,514.00 L590.20,512.50 L590.74,583.10 L591.57,549.48 L592.41,532.21 L593.24,523.35 L594.07,518.80 L594.91,516.47 L595.74,515.27 L597.74,514.34 L599.40,514.00 L599.70,512.50 L600.24,580.50 L601.07,548.14 L601.91,531.53 L602.74,523.00 L603.57,518.62 L604.41,516.37 L605.24,515.22 L607.24,514.30 L608.70,514.00 L609.00,512.50 L609.54,577.90 L610.37,546.81 L611.21,530.84 L612.04,522.65 L612.87,518.44 L613.71,516.28 L614.54,515.17 L616.54,513.97 L618.00,514.00 L618.30,512.50 L618.84,575.30 L619.67,545.47 L620.51,530.16 L621.34,522.30 L622.17,518.26 L623.01,516.19 L623.84,515.12 L625.84,513.61 L627.20,514.00 L627.50,512.50 L628.04,571.30 L628.87,543.42 L629.71,529.10 L630.54,521.75 L631.37,517.98 L632.21,516.04 L633.04,515.05 L635.04,514.35 L636.60,514.00 L636.90,512.50 L637.44,568.20 L638.27,541.83 L639.11,528.29 L639.94,521.34 L640.77,517.77 L641.61,515.93 L642.44,514.99 L644.44,513.80 L645.90,514.00 L646.20,512.50 L646.74,564.80 L647.57,540.08 L648.41,527.39 L649.24,520.88 L650.07,517.53 L650.91,515.81 L651.74,514.93 L653.74,514.36 L655.20,514.00 L655.50,512.50 L656.04,561.70 L656.87,538.49 L657.71,526.57 L658.54,520.46 L659.37,517.31 L660.21,515.70 L661.04,514.87 L663.04,514.57 L664.50,514.00 L664.80,512.50 L665.34,558.30 L666.17,536.74 L667.01,525.68 L667.84,520.00 L668.67,517.08 L669.51,515.58 L670.34,514.81 L672.34,513.88 L673.80,514.00 L674.10,512.50 L674.64,555.70 L675.47,535.41 L676.31,524.99 L677.14,519.64 L677.97,516.90 L678.81,515.49 L679.64,514.76 L681.64,513.88 L683.10,514.00 L683.40,512.50 L683.94,553.10 L684.77,534.07 L685.61,524.31 L686.44,519.29 L687.27,516.72 L688.11,515.39 L688.94,514.72 L690.94,514.54 L692.40,514.00 L692.70,512.50 L693.24,551.00 L694.07,533.00 L694.91,523.75 L695.74,519.01 L696.57,516.57 L697.41,515.32 L698.24,514.68 L700.24,514.27 L701.70,514.00 L702.00,512.50 L702.54,548.40 L703.37,531.66 L704.21,523.07 L705.04,518.66 L705.87,516.39 L706.71,515.23 L707.54,514.63 L709.54,513.60 L711.00,514.00 L711.30,512.50 L711.84,545.70 L712.67,530.28 L713.51,522.36 L714.34,518.29 L715.17,516.20 L716.01,515.13 L716.84,514.58 L718.84,513.55 L720.30,514.00 L720.60,512.50 L721.14,543.90 L721.97,529.35 L722.81,521.88 L723.64,518.05 L724.47,516.08 L725.31,515.07 L726.14,514.55 L728.14,513.58 L729.60,514.00 L729.90,512.50 L730.44,542.10 L731.27,528.43 L732.11,521.41 L732.94,517.80 L733.77,515.95 L734.61,515.00 L735.44,514.51 L737.44,514.49 L738.70,514.00 L739.00,512.50 L739.54,540.80 L740.37,527.76 L741.21,521.06 L742.04,517.63 L742.87,515.86 L743.71,514.96 L744.54,514.49 L747.50,514.00" fill="none" stroke="#000" stroke-width="1.1" stroke-linejoin="round"/>
</g>
<text x="754.70" y="429.60" font-size="11.55" fill="#1f3fd0">GBP130 <tspan font-size="8.7" dy="3.6">66–88</tspan><tspan dy="-3.6"> versus I1,3P2</tspan></text>
<text x="754.70" y="448.70" font-size="11.55" fill="#2a8c34">HRPII WT vs I1,3P2</text>
<text x="754.70" y="466.50" font-size="11.55" fill="#e3262a">HRPII RLE&gt;A versus I1,3P2</text>
<text x="754.70" y="483.50" font-size="11.55" fill="#9a9a9a">Buffer versus I1,3P2</text>
<text x="754.70" y="499.10" font-size="11.55" fill="#f07f22">Buffer versus Fmoc-Tyr(SO<tspan font-size="8.7" dy="2.8">3</tspan><tspan dy="-2.8">)-OH</tspan></text>
<text x="754.70" y="515.00" font-size="11.55">Htp1 versus Fmoc-Tyr(SO<tspan font-size="8.7" dy="2.8">3</tspan><tspan dy="-2.8">)-OH</tspan></text>
<rect x="565.70" y="622.00" width="182.60" height="102.10" fill="none" stroke="#111" stroke-width="1.1"/>
<line x1="565.70" y1="619.20" x2="565.70" y2="624.60" stroke="#111" stroke-width="1.1"/>
<text x="565.70" y="613.90" font-size="11.55" text-anchor="middle">0</text>
<line x1="617.20" y1="619.20" x2="617.20" y2="624.60" stroke="#111" stroke-width="1.1"/>
<text x="617.20" y="613.90" font-size="11.55" text-anchor="middle">500</text>
<line x1="668.70" y1="619.20" x2="668.70" y2="624.60" stroke="#111" stroke-width="1.1"/>
<text x="668.70" y="613.90" font-size="11.55" text-anchor="middle">1,000</text>
<line x1="720.20" y1="619.20" x2="720.20" y2="624.60" stroke="#111" stroke-width="1.1"/>
<text x="720.20" y="613.90" font-size="11.55" text-anchor="middle">1,500</text>
<line x1="563.00" y1="621.70" x2="568.60" y2="621.70" stroke="#111" stroke-width="1.1"/>
<text x="558.00" y="625.60" font-size="11.55" text-anchor="end">3.8</text>
<line x1="563.00" y1="655.90" x2="568.60" y2="655.90" stroke="#111" stroke-width="1.1"/>
<text x="558.00" y="659.80" font-size="11.55" text-anchor="end">4.0</text>
<line x1="563.00" y1="690.10" x2="568.60" y2="690.10" stroke="#111" stroke-width="1.1"/>
<text x="558.00" y="694.00" font-size="11.55" text-anchor="end">4.2</text>
<line x1="563.00" y1="724.30" x2="568.60" y2="724.30" stroke="#111" stroke-width="1.1"/>
<text x="558.00" y="728.20" font-size="11.55" text-anchor="end">4.4</text>
<text x="530.40" y="673.60" font-size="11.55" text-anchor="middle" transform="rotate(-90 530.4 673.6)">µcal</text>
<clipPath id="fc2"><rect x="566" y="622.2" width="181.8" height="101.5"/></clipPath>
<g clip-path="url(#fc2)">
<path d="M565.90,640.60 L567.90,640.85 L569.90,640.32 L571.90,640.86 L573.90,640.98 L575.90,640.73 L577.90,640.48 L580.90,640.60 L581.38,643.10 L581.81,641.78 L582.25,641.16 L582.68,640.86 L583.11,640.72 L583.55,640.66 L583.98,640.63 L585.98,640.64 L587.98,640.30 L590.40,640.60 L590.88,642.40 L591.31,641.45 L591.75,641.00 L592.18,640.79 L592.61,640.69 L593.05,640.64 L593.48,640.62 L595.48,640.21 L597.48,640.98 L599.80,640.60 L600.28,642.40 L600.71,641.45 L601.15,641.00 L601.58,640.79 L602.01,640.69 L602.45,640.64 L602.88,640.62 L604.88,640.72 L606.88,640.62 L608.90,640.60 L609.38,642.40 L609.81,641.45 L610.25,641.00 L610.68,640.79 L611.11,640.69 L611.55,640.64 L611.98,640.62 L613.98,640.95 L615.98,640.55 L618.00,640.60 L618.48,642.40 L618.91,641.45 L619.35,641.00 L619.78,640.79 L620.21,640.69 L620.65,640.64 L621.08,640.62 L623.08,640.90 L625.08,640.86 L627.50,640.60 L627.98,642.40 L628.41,641.45 L628.85,641.00 L629.28,640.79 L629.71,640.69 L630.15,640.64 L630.58,640.62 L632.58,640.37 L634.58,640.40 L636.60,640.60 L637.08,642.40 L637.51,641.45 L637.95,641.00 L638.38,640.79 L638.81,640.69 L639.25,640.64 L639.68,640.62 L641.68,640.43 L643.68,640.39 L645.90,640.60 L646.38,642.40 L646.81,641.45 L647.25,641.00 L647.68,640.79 L648.11,640.69 L648.55,640.64 L648.98,640.62 L650.98,640.67 L652.98,640.41 L655.30,640.60 L655.78,642.40 L656.21,641.45 L656.65,641.00 L657.08,640.79 L657.51,640.69 L657.95,640.64 L658.38,640.62 L660.38,640.54 L662.38,640.30 L664.50,640.60 L664.98,642.40 L665.41,641.45 L665.85,641.00 L666.28,640.79 L666.71,640.69 L667.15,640.64 L667.58,640.62 L669.58,640.93 L671.58,640.48 L673.60,640.60 L674.08,642.40 L674.51,641.45 L674.95,641.00 L675.38,640.79 L675.81,640.69 L676.25,640.64 L676.68,640.62 L678.68,640.57 L680.68,640.67 L682.80,640.60 L683.28,642.40 L683.71,641.45 L684.15,641.00 L684.58,640.79 L685.01,640.69 L685.45,640.64 L685.88,640.62 L687.88,640.92 L689.88,640.54 L692.00,640.60 L692.48,642.40 L692.91,641.45 L693.35,641.00 L693.78,640.79 L694.21,640.69 L694.65,640.64 L695.08,640.62 L697.08,640.93 L699.08,640.60 L701.20,640.60 L701.68,642.40 L702.11,641.45 L702.55,641.00 L702.98,640.79 L703.41,640.69 L703.85,640.64 L704.28,640.62 L706.28,640.63 L708.28,640.62 L710.30,640.60 L710.78,642.40 L711.21,641.45 L711.65,641.00 L712.08,640.79 L712.51,640.69 L712.95,640.64 L713.38,640.62 L715.38,640.21 L717.38,640.55 L719.50,640.60 L719.98,642.40 L720.41,641.45 L720.85,641.00 L721.28,640.79 L721.71,640.69 L722.15,640.64 L722.58,640.62 L724.58,640.35 L726.58,640.20 L728.70,640.60 L729.18,642.40 L729.61,641.45 L730.05,641.00 L730.48,640.79 L730.91,640.69 L731.35,640.64 L731.78,640.62 L733.78,640.84 L735.78,640.34 L738.00,640.60 L738.48,642.40 L738.91,641.45 L739.35,641.00 L739.78,640.79 L740.21,640.69 L740.65,640.64 L741.08,640.62 L748.00,640.60" fill="none" stroke="#f07f22" stroke-width="1.1" stroke-linejoin="round"/>
<path d="M565.90,657.30 L567.90,657.26 L569.90,657.66 L572.20,657.30 L572.50,654.80 L573.04,668.30 L573.87,662.95 L574.71,660.20 L575.54,658.79 L576.37,658.06 L577.21,657.69 L578.04,657.50 L580.90,657.30 L581.20,654.80 L581.74,715.50 L582.57,687.18 L583.41,672.64 L584.24,665.18 L585.07,661.34 L585.91,659.38 L586.74,658.37 L588.74,657.39 L590.40,657.30 L590.70,654.80 L591.24,712.90 L592.07,685.85 L592.91,671.96 L593.74,664.82 L594.57,661.16 L595.41,659.28 L596.24,658.32 L598.24,657.02 L599.80,657.30 L600.10,654.80 L600.64,706.40 L601.47,682.51 L602.31,670.24 L603.14,663.94 L603.97,660.71 L604.81,659.05 L605.64,658.20 L607.64,657.33 L608.90,657.30 L609.20,654.80 L609.74,702.40 L610.57,680.46 L611.41,669.19 L612.24,663.40 L613.07,660.43 L613.91,658.91 L614.74,658.13 L616.74,657.39 L618.00,657.30 L618.30,654.80 L618.84,697.20 L619.67,677.79 L620.51,667.82 L621.34,662.70 L622.17,660.07 L623.01,658.72 L623.84,658.03 L625.84,657.75 L627.50,657.30 L627.80,654.80 L628.34,691.50 L629.17,674.86 L630.01,666.32 L630.84,661.93 L631.67,659.68 L632.51,658.52 L633.34,657.93 L635.34,656.67 L636.60,657.30 L636.90,654.80 L637.44,687.60 L638.27,672.86 L639.11,665.29 L639.94,661.40 L640.77,659.41 L641.61,658.38 L642.44,657.85 L644.44,657.40 L645.90,657.30 L646.20,654.80 L646.74,682.30 L647.57,670.14 L648.41,663.89 L649.24,660.68 L650.07,659.04 L650.91,658.19 L651.74,657.76 L653.74,656.90 L655.30,657.30 L655.60,654.80 L656.14,677.10 L656.97,667.47 L657.81,662.52 L658.64,659.98 L659.47,658.68 L660.31,658.01 L661.14,657.66 L663.14,656.94 L664.50,657.30 L664.80,654.80 L665.34,675.30 L666.17,666.54 L667.01,662.04 L667.84,659.74 L668.67,658.55 L669.51,657.94 L670.34,657.63 L672.34,657.74 L673.60,657.30 L673.90,654.80 L674.44,671.90 L675.27,664.80 L676.11,661.15 L676.94,659.28 L677.77,658.31 L678.61,657.82 L679.44,657.57 L681.44,657.31 L682.80,657.30 L683.10,654.80 L683.64,670.00 L684.47,663.82 L685.31,660.65 L686.14,659.02 L686.97,658.18 L687.81,657.75 L688.64,657.53 L690.64,657.40 L692.00,657.30 L692.30,654.80 L692.84,668.50 L693.67,663.05 L694.51,660.25 L695.34,658.82 L696.17,658.08 L697.01,657.70 L697.84,657.51 L699.84,657.72 L701.20,657.30 L701.50,654.80 L702.04,667.50 L702.87,662.54 L703.71,659.99 L704.54,658.68 L705.37,658.01 L706.21,657.66 L707.04,657.49 L709.04,657.96 L710.30,657.30 L710.60,654.80 L711.14,666.80 L711.97,662.18 L712.81,659.80 L713.64,658.59 L714.47,657.96 L715.31,657.64 L716.14,657.47 L718.14,657.21 L719.50,657.30 L719.80,654.80 L720.34,666.20 L721.17,661.87 L722.01,659.65 L722.84,658.50 L723.67,657.92 L724.51,657.62 L725.34,657.46 L727.34,657.48 L728.70,657.30 L729.00,654.80 L729.54,665.80 L730.37,661.66 L731.21,659.54 L732.04,658.45 L732.87,657.89 L733.71,657.60 L734.54,657.46 L736.54,657.31 L738.00,657.30 L738.30,654.80 L738.84,665.40 L739.67,661.46 L740.51,659.44 L741.34,658.40 L742.17,657.86 L743.01,657.59 L743.84,657.45 L748.00,657.30" fill="none" stroke="#000" stroke-width="1.1" stroke-linejoin="round"/>
</g>
<text x="754.70" y="644.40" font-size="11.55" fill="#f07f22">Buffer versus I1,3P2</text>
<text x="754.70" y="661.20" font-size="11.55">p40PX versus I1,3P2</text>
</svg></body></html>
